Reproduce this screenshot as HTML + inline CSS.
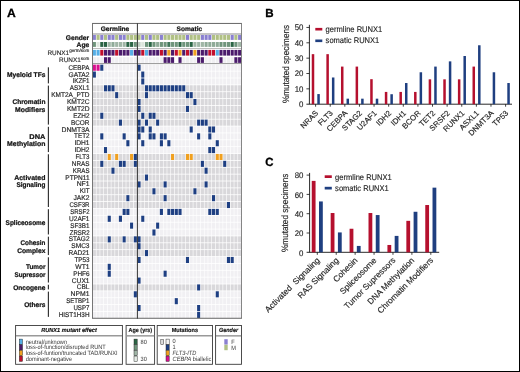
<!DOCTYPE html><html><head><meta charset="utf-8"><style>html,body{margin:0;padding:0;background:#fff;}svg{display:block;will-change:transform;}text{font-family:"Liberation Sans", sans-serif;text-rendering:geometricPrecision;}</style></head><body>
<svg width="520" height="372" viewBox="0 0 520 372">
<rect x="0" y="0" width="520" height="372" fill="#fff"/>
<rect x="92.8" y="35" width="3.1" height="4.9" fill="#8a80d0"/>
<rect x="92.8" y="42" width="3.1" height="4.9" fill="#6f957c"/>
<rect x="92.8" y="49.9" width="3.1" height="5.7" fill="#55aee6"/>
<rect x="92.8" y="57.2" width="3.1" height="5.7" fill="#f0eff2"/>
<rect x="96.52" y="35" width="3.1" height="4.9" fill="#b0c084"/>
<rect x="96.52" y="42" width="3.1" height="4.9" fill="#dde6dd"/>
<rect x="96.52" y="49.9" width="3.1" height="5.7" fill="#55aee6"/>
<rect x="96.52" y="57.2" width="3.1" height="5.7" fill="#f0eff2"/>
<rect x="100.25" y="35" width="3.1" height="4.9" fill="#8a80d0"/>
<rect x="100.25" y="42" width="3.1" height="4.9" fill="#2a6444"/>
<rect x="100.25" y="49.9" width="3.1" height="5.7" fill="#c2102c"/>
<rect x="100.25" y="57.2" width="3.1" height="5.7" fill="#f0eff2"/>
<rect x="103.97" y="35" width="3.1" height="4.9" fill="#b0c084"/>
<rect x="103.97" y="42" width="3.1" height="4.9" fill="#2a6444"/>
<rect x="103.97" y="49.9" width="3.1" height="5.7" fill="#4b1b6c"/>
<rect x="103.97" y="57.2" width="3.1" height="5.7" fill="#4b1b6c"/>
<rect x="107.7" y="35" width="3.1" height="4.9" fill="#8a80d0"/>
<rect x="107.7" y="42" width="3.1" height="4.9" fill="#a0b6a6"/>
<rect x="107.7" y="49.9" width="3.1" height="5.7" fill="#4b1b6c"/>
<rect x="107.7" y="57.2" width="3.1" height="5.7" fill="#4b1b6c"/>
<rect x="111.42" y="35" width="3.1" height="4.9" fill="#8a80d0"/>
<rect x="111.42" y="42" width="3.1" height="4.9" fill="#8fab98"/>
<rect x="111.42" y="49.9" width="3.1" height="5.7" fill="#4b1b6c"/>
<rect x="111.42" y="57.2" width="3.1" height="5.7" fill="#f0eff2"/>
<rect x="115.15" y="35" width="3.1" height="4.9" fill="#b0c084"/>
<rect x="115.15" y="42" width="3.1" height="4.9" fill="#a0b6a6"/>
<rect x="115.15" y="49.9" width="3.1" height="5.7" fill="#c2102c"/>
<rect x="115.15" y="57.2" width="3.1" height="5.7" fill="#f0eff2"/>
<rect x="118.88" y="35" width="3.1" height="4.9" fill="#8a80d0"/>
<rect x="118.88" y="42" width="3.1" height="4.9" fill="#a0b6a6"/>
<rect x="118.88" y="49.9" width="3.1" height="5.7" fill="#4b1b6c"/>
<rect x="118.88" y="57.2" width="3.1" height="5.7" fill="#f0eff2"/>
<rect x="122.6" y="35" width="3.1" height="4.9" fill="#8a80d0"/>
<rect x="122.6" y="42" width="3.1" height="4.9" fill="#a0b6a6"/>
<rect x="122.6" y="49.9" width="3.1" height="5.7" fill="#4b1b6c"/>
<rect x="122.6" y="57.2" width="3.1" height="5.7" fill="#f0eff2"/>
<rect x="126.33" y="35" width="3.1" height="4.9" fill="#b0c084"/>
<rect x="126.33" y="42" width="3.1" height="4.9" fill="#2a6444"/>
<rect x="126.33" y="49.9" width="3.1" height="5.7" fill="#4b1b6c"/>
<rect x="126.33" y="57.2" width="3.1" height="5.7" fill="#f0eff2"/>
<rect x="130.05" y="35" width="3.1" height="4.9" fill="#b0c084"/>
<rect x="130.05" y="42" width="3.1" height="4.9" fill="#2a6444"/>
<rect x="130.05" y="49.9" width="3.1" height="5.7" fill="#55aee6"/>
<rect x="130.05" y="57.2" width="3.1" height="5.7" fill="#f0eff2"/>
<rect x="133.78" y="35" width="3.1" height="4.9" fill="#b0c084"/>
<rect x="133.78" y="42" width="3.1" height="4.9" fill="#6f957c"/>
<rect x="133.78" y="49.9" width="3.1" height="5.7" fill="#4b1b6c"/>
<rect x="133.78" y="57.2" width="3.1" height="5.7" fill="#f0eff2"/>
<rect x="137.5" y="35" width="3.1" height="4.9" fill="#b0c084"/>
<rect x="137.5" y="42" width="3.1" height="4.9" fill="#c0cfc3"/>
<rect x="137.5" y="49.9" width="3.1" height="5.7" fill="#4b1b6c"/>
<rect x="137.5" y="57.2" width="3.1" height="5.7" fill="#f0eff2"/>
<rect x="141.23" y="35" width="3.1" height="4.9" fill="#8a80d0"/>
<rect x="141.23" y="42" width="3.1" height="4.9" fill="#dde6dd"/>
<rect x="141.23" y="49.9" width="3.1" height="5.7" fill="#c2102c"/>
<rect x="141.23" y="57.2" width="3.1" height="5.7" fill="#f0eff2"/>
<rect x="144.95" y="35" width="3.1" height="4.9" fill="#b0c084"/>
<rect x="144.95" y="42" width="3.1" height="4.9" fill="#6f957c"/>
<rect x="144.95" y="49.9" width="3.1" height="5.7" fill="#55aee6"/>
<rect x="144.95" y="57.2" width="3.1" height="5.7" fill="#f0eff2"/>
<rect x="148.68" y="35" width="3.1" height="4.9" fill="#8a80d0"/>
<rect x="148.68" y="42" width="3.1" height="4.9" fill="#2a6444"/>
<rect x="148.68" y="49.9" width="3.1" height="5.7" fill="#4b1b6c"/>
<rect x="148.68" y="57.2" width="3.1" height="5.7" fill="#f0eff2"/>
<rect x="152.4" y="35" width="3.1" height="4.9" fill="#b0c084"/>
<rect x="152.4" y="42" width="3.1" height="4.9" fill="#6f957c"/>
<rect x="152.4" y="49.9" width="3.1" height="5.7" fill="#4b1b6c"/>
<rect x="152.4" y="57.2" width="3.1" height="5.7" fill="#f0eff2"/>
<rect x="156.12" y="35" width="3.1" height="4.9" fill="#b0c084"/>
<rect x="156.12" y="42" width="3.1" height="4.9" fill="#8fab98"/>
<rect x="156.12" y="49.9" width="3.1" height="5.7" fill="#4b1b6c"/>
<rect x="156.12" y="57.2" width="3.1" height="5.7" fill="#f0eff2"/>
<rect x="159.85" y="35" width="3.1" height="4.9" fill="#8a80d0"/>
<rect x="159.85" y="42" width="3.1" height="4.9" fill="#6f957c"/>
<rect x="159.85" y="49.9" width="3.1" height="5.7" fill="#c2102c"/>
<rect x="159.85" y="57.2" width="3.1" height="5.7" fill="#f0eff2"/>
<rect x="163.58" y="35" width="3.1" height="4.9" fill="#b0c084"/>
<rect x="163.58" y="42" width="3.1" height="4.9" fill="#6f957c"/>
<rect x="163.58" y="49.9" width="3.1" height="5.7" fill="#4b1b6c"/>
<rect x="163.58" y="57.2" width="3.1" height="5.7" fill="#4b1b6c"/>
<rect x="167.3" y="35" width="3.1" height="4.9" fill="#b0c084"/>
<rect x="167.3" y="42" width="3.1" height="4.9" fill="#41775a"/>
<rect x="167.3" y="49.9" width="3.1" height="5.7" fill="#f0a020"/>
<rect x="167.3" y="57.2" width="3.1" height="5.7" fill="#4b1b6c"/>
<rect x="171.03" y="35" width="3.1" height="4.9" fill="#b0c084"/>
<rect x="171.03" y="42" width="3.1" height="4.9" fill="#6f957c"/>
<rect x="171.03" y="49.9" width="3.1" height="5.7" fill="#4b1b6c"/>
<rect x="171.03" y="57.2" width="3.1" height="5.7" fill="#4b1b6c"/>
<rect x="174.75" y="35" width="3.1" height="4.9" fill="#b0c084"/>
<rect x="174.75" y="42" width="3.1" height="4.9" fill="#6f957c"/>
<rect x="174.75" y="49.9" width="3.1" height="5.7" fill="#c2102c"/>
<rect x="174.75" y="57.2" width="3.1" height="5.7" fill="#ffffff"/>
<rect x="178.48" y="35" width="3.1" height="4.9" fill="#b0c084"/>
<rect x="178.48" y="42" width="3.1" height="4.9" fill="#2a6444"/>
<rect x="178.48" y="49.9" width="3.1" height="5.7" fill="#f0a020"/>
<rect x="178.48" y="57.2" width="3.1" height="5.7" fill="#4b1b6c"/>
<rect x="182.2" y="35" width="3.1" height="4.9" fill="#b0c084"/>
<rect x="182.2" y="42" width="3.1" height="4.9" fill="#6f957c"/>
<rect x="182.2" y="49.9" width="3.1" height="5.7" fill="#4b1b6c"/>
<rect x="182.2" y="57.2" width="3.1" height="5.7" fill="#f0eff2"/>
<rect x="185.93" y="35" width="3.1" height="4.9" fill="#8a80d0"/>
<rect x="185.93" y="42" width="3.1" height="4.9" fill="#6f957c"/>
<rect x="185.93" y="49.9" width="3.1" height="5.7" fill="#c2102c"/>
<rect x="185.93" y="57.2" width="3.1" height="5.7" fill="#f0eff2"/>
<rect x="189.65" y="35" width="3.1" height="4.9" fill="#b0c084"/>
<rect x="189.65" y="42" width="3.1" height="4.9" fill="#2a6444"/>
<rect x="189.65" y="49.9" width="3.1" height="5.7" fill="#4b1b6c"/>
<rect x="189.65" y="57.2" width="3.1" height="5.7" fill="#f0eff2"/>
<rect x="193.38" y="35" width="3.1" height="4.9" fill="#b0c084"/>
<rect x="193.38" y="42" width="3.1" height="4.9" fill="#a0b6a6"/>
<rect x="193.38" y="49.9" width="3.1" height="5.7" fill="#f0a020"/>
<rect x="193.38" y="57.2" width="3.1" height="5.7" fill="#f0eff2"/>
<rect x="197.1" y="35" width="3.1" height="4.9" fill="#b0c084"/>
<rect x="197.1" y="42" width="3.1" height="4.9" fill="#a0b6a6"/>
<rect x="197.1" y="49.9" width="3.1" height="5.7" fill="#4b1b6c"/>
<rect x="197.1" y="57.2" width="3.1" height="5.7" fill="#4b1b6c"/>
<rect x="200.83" y="35" width="3.1" height="4.9" fill="#8a80d0"/>
<rect x="200.83" y="42" width="3.1" height="4.9" fill="#a0b6a6"/>
<rect x="200.83" y="49.9" width="3.1" height="5.7" fill="#4b1b6c"/>
<rect x="200.83" y="57.2" width="3.1" height="5.7" fill="#4b1b6c"/>
<rect x="204.55" y="35" width="3.1" height="4.9" fill="#8a80d0"/>
<rect x="204.55" y="42" width="3.1" height="4.9" fill="#8fab98"/>
<rect x="204.55" y="49.9" width="3.1" height="5.7" fill="#4b1b6c"/>
<rect x="204.55" y="57.2" width="3.1" height="5.7" fill="#f0eff2"/>
<rect x="208.28" y="35" width="3.1" height="4.9" fill="#8a80d0"/>
<rect x="208.28" y="42" width="3.1" height="4.9" fill="#8fab98"/>
<rect x="208.28" y="49.9" width="3.1" height="5.7" fill="#c2102c"/>
<rect x="208.28" y="57.2" width="3.1" height="5.7" fill="#f0eff2"/>
<rect x="212" y="35" width="3.1" height="4.9" fill="#b0c084"/>
<rect x="212" y="42" width="3.1" height="4.9" fill="#8fab98"/>
<rect x="212" y="49.9" width="3.1" height="5.7" fill="#c2102c"/>
<rect x="212" y="57.2" width="3.1" height="5.7" fill="#f0eff2"/>
<rect x="215.73" y="35" width="3.1" height="4.9" fill="#b0c084"/>
<rect x="215.73" y="42" width="3.1" height="4.9" fill="#8fab98"/>
<rect x="215.73" y="49.9" width="3.1" height="5.7" fill="#55aee6"/>
<rect x="215.73" y="57.2" width="3.1" height="5.7" fill="#f0eff2"/>
<rect x="219.45" y="35" width="3.1" height="4.9" fill="#b0c084"/>
<rect x="219.45" y="42" width="3.1" height="4.9" fill="#6f957c"/>
<rect x="219.45" y="49.9" width="3.1" height="5.7" fill="#4b1b6c"/>
<rect x="219.45" y="57.2" width="3.1" height="5.7" fill="#4b1b6c"/>
<rect x="223.18" y="35" width="3.1" height="4.9" fill="#b0c084"/>
<rect x="223.18" y="42" width="3.1" height="4.9" fill="#6f957c"/>
<rect x="223.18" y="49.9" width="3.1" height="5.7" fill="#4b1b6c"/>
<rect x="223.18" y="57.2" width="3.1" height="5.7" fill="#f0eff2"/>
<rect x="226.9" y="35" width="3.1" height="4.9" fill="#b0c084"/>
<rect x="226.9" y="42" width="3.1" height="4.9" fill="#6f957c"/>
<rect x="226.9" y="49.9" width="3.1" height="5.7" fill="#4b1b6c"/>
<rect x="226.9" y="57.2" width="3.1" height="5.7" fill="#f0eff2"/>
<rect x="230.63" y="35" width="3.1" height="4.9" fill="#8a80d0"/>
<rect x="230.63" y="42" width="3.1" height="4.9" fill="#2a6444"/>
<rect x="230.63" y="49.9" width="3.1" height="5.7" fill="#4b1b6c"/>
<rect x="230.63" y="57.2" width="3.1" height="5.7" fill="#f0eff2"/>
<rect x="234.35" y="35" width="3.1" height="4.9" fill="#b0c084"/>
<rect x="234.35" y="42" width="3.1" height="4.9" fill="#6f957c"/>
<rect x="234.35" y="49.9" width="3.1" height="5.7" fill="#4b1b6c"/>
<rect x="234.35" y="57.2" width="3.1" height="5.7" fill="#4b1b6c"/>
<rect x="238.08" y="35" width="3.1" height="4.9" fill="#8a80d0"/>
<rect x="238.08" y="42" width="3.1" height="4.9" fill="#a0b6a6"/>
<rect x="238.08" y="49.9" width="3.1" height="5.7" fill="#4b1b6c"/>
<rect x="238.08" y="57.2" width="3.1" height="5.7" fill="#4b1b6c"/>
<rect x="92.8" y="64.65" width="3.1" height="6.1" fill="#d8108e"/>
<rect x="96.52" y="64.65" width="3.1" height="6.1" fill="#d8108e"/>
<rect x="100.25" y="64.65" width="3.1" height="6.1" fill="#1e3f82"/>
<rect x="103.97" y="64.65" width="3.1" height="6.1" fill="#f1f0f3"/>
<rect x="107.7" y="64.65" width="3.1" height="6.1" fill="#f1f0f3"/>
<rect x="111.42" y="64.65" width="3.1" height="6.1" fill="#f1f0f3"/>
<rect x="115.15" y="64.65" width="3.1" height="6.1" fill="#f1f0f3"/>
<rect x="118.88" y="64.65" width="3.1" height="6.1" fill="#f1f0f3"/>
<rect x="122.6" y="64.65" width="3.1" height="6.1" fill="#f1f0f3"/>
<rect x="126.33" y="64.65" width="3.1" height="6.1" fill="#f1f0f3"/>
<rect x="130.05" y="64.65" width="3.1" height="6.1" fill="#f1f0f3"/>
<rect x="133.78" y="64.65" width="3.1" height="6.1" fill="#f1f0f3"/>
<rect x="137.5" y="64.65" width="3.1" height="6.1" fill="#1e3f82"/>
<rect x="141.23" y="64.65" width="3.1" height="6.1" fill="#f1f0f3"/>
<rect x="144.95" y="64.65" width="3.1" height="6.1" fill="#f1f0f3"/>
<rect x="148.68" y="64.65" width="3.1" height="6.1" fill="#f1f0f3"/>
<rect x="152.4" y="64.65" width="3.1" height="6.1" fill="#f1f0f3"/>
<rect x="156.12" y="64.65" width="3.1" height="6.1" fill="#f1f0f3"/>
<rect x="159.85" y="64.65" width="3.1" height="6.1" fill="#f1f0f3"/>
<rect x="163.58" y="64.65" width="3.1" height="6.1" fill="#f1f0f3"/>
<rect x="167.3" y="64.65" width="3.1" height="6.1" fill="#f1f0f3"/>
<rect x="171.03" y="64.65" width="3.1" height="6.1" fill="#f1f0f3"/>
<rect x="174.75" y="64.65" width="3.1" height="6.1" fill="#f1f0f3"/>
<rect x="178.48" y="64.65" width="3.1" height="6.1" fill="#f1f0f3"/>
<rect x="182.2" y="64.65" width="3.1" height="6.1" fill="#f1f0f3"/>
<rect x="185.93" y="64.65" width="3.1" height="6.1" fill="#f1f0f3"/>
<rect x="189.65" y="64.65" width="3.1" height="6.1" fill="#f1f0f3"/>
<rect x="193.38" y="64.65" width="3.1" height="6.1" fill="#f1f0f3"/>
<rect x="197.1" y="64.65" width="3.1" height="6.1" fill="#f1f0f3"/>
<rect x="200.83" y="64.65" width="3.1" height="6.1" fill="#f1f0f3"/>
<rect x="204.55" y="64.65" width="3.1" height="6.1" fill="#f1f0f3"/>
<rect x="208.28" y="64.65" width="3.1" height="6.1" fill="#f1f0f3"/>
<rect x="212" y="64.65" width="3.1" height="6.1" fill="#f1f0f3"/>
<rect x="215.73" y="64.65" width="3.1" height="6.1" fill="#f1f0f3"/>
<rect x="219.45" y="64.65" width="3.1" height="6.1" fill="#f1f0f3"/>
<rect x="223.18" y="64.65" width="3.1" height="6.1" fill="#f1f0f3"/>
<rect x="226.9" y="64.65" width="3.1" height="6.1" fill="#f1f0f3"/>
<rect x="230.63" y="64.65" width="3.1" height="6.1" fill="#f1f0f3"/>
<rect x="234.35" y="64.65" width="3.1" height="6.1" fill="#f1f0f3"/>
<rect x="238.08" y="64.65" width="3.1" height="6.1" fill="#f1f0f3"/>
<rect x="92.8" y="71.52" width="3.1" height="6.1" fill="#1e3f82"/>
<rect x="96.52" y="71.52" width="3.1" height="6.1" fill="#f1f0f3"/>
<rect x="100.25" y="71.52" width="3.1" height="6.1" fill="#f1f0f3"/>
<rect x="103.97" y="71.52" width="3.1" height="6.1" fill="#f1f0f3"/>
<rect x="107.7" y="71.52" width="3.1" height="6.1" fill="#f1f0f3"/>
<rect x="111.42" y="71.52" width="3.1" height="6.1" fill="#f1f0f3"/>
<rect x="115.15" y="71.52" width="3.1" height="6.1" fill="#f1f0f3"/>
<rect x="118.88" y="71.52" width="3.1" height="6.1" fill="#f1f0f3"/>
<rect x="122.6" y="71.52" width="3.1" height="6.1" fill="#f1f0f3"/>
<rect x="126.33" y="71.52" width="3.1" height="6.1" fill="#f1f0f3"/>
<rect x="130.05" y="71.52" width="3.1" height="6.1" fill="#f1f0f3"/>
<rect x="133.78" y="71.52" width="3.1" height="6.1" fill="#f1f0f3"/>
<rect x="137.5" y="71.52" width="3.1" height="6.1" fill="#f1f0f3"/>
<rect x="141.23" y="71.52" width="3.1" height="6.1" fill="#1e3f82"/>
<rect x="144.95" y="71.52" width="3.1" height="6.1" fill="#f1f0f3"/>
<rect x="148.68" y="71.52" width="3.1" height="6.1" fill="#f1f0f3"/>
<rect x="152.4" y="71.52" width="3.1" height="6.1" fill="#f1f0f3"/>
<rect x="156.12" y="71.52" width="3.1" height="6.1" fill="#f1f0f3"/>
<rect x="159.85" y="71.52" width="3.1" height="6.1" fill="#f1f0f3"/>
<rect x="163.58" y="71.52" width="3.1" height="6.1" fill="#f1f0f3"/>
<rect x="167.3" y="71.52" width="3.1" height="6.1" fill="#f1f0f3"/>
<rect x="171.03" y="71.52" width="3.1" height="6.1" fill="#f1f0f3"/>
<rect x="174.75" y="71.52" width="3.1" height="6.1" fill="#f1f0f3"/>
<rect x="178.48" y="71.52" width="3.1" height="6.1" fill="#f1f0f3"/>
<rect x="182.2" y="71.52" width="3.1" height="6.1" fill="#f1f0f3"/>
<rect x="185.93" y="71.52" width="3.1" height="6.1" fill="#f1f0f3"/>
<rect x="189.65" y="71.52" width="3.1" height="6.1" fill="#f1f0f3"/>
<rect x="193.38" y="71.52" width="3.1" height="6.1" fill="#f1f0f3"/>
<rect x="197.1" y="71.52" width="3.1" height="6.1" fill="#f1f0f3"/>
<rect x="200.83" y="71.52" width="3.1" height="6.1" fill="#f1f0f3"/>
<rect x="204.55" y="71.52" width="3.1" height="6.1" fill="#f1f0f3"/>
<rect x="208.28" y="71.52" width="3.1" height="6.1" fill="#f1f0f3"/>
<rect x="212" y="71.52" width="3.1" height="6.1" fill="#f1f0f3"/>
<rect x="215.73" y="71.52" width="3.1" height="6.1" fill="#f1f0f3"/>
<rect x="219.45" y="71.52" width="3.1" height="6.1" fill="#f1f0f3"/>
<rect x="223.18" y="71.52" width="3.1" height="6.1" fill="#f1f0f3"/>
<rect x="226.9" y="71.52" width="3.1" height="6.1" fill="#f1f0f3"/>
<rect x="230.63" y="71.52" width="3.1" height="6.1" fill="#f1f0f3"/>
<rect x="234.35" y="71.52" width="3.1" height="6.1" fill="#f1f0f3"/>
<rect x="238.08" y="71.52" width="3.1" height="6.1" fill="#f1f0f3"/>
<rect x="92.8" y="78.38" width="3.1" height="6.1" fill="#f1f0f3"/>
<rect x="96.52" y="78.38" width="3.1" height="6.1" fill="#f1f0f3"/>
<rect x="100.25" y="78.38" width="3.1" height="6.1" fill="#f1f0f3"/>
<rect x="103.97" y="78.38" width="3.1" height="6.1" fill="#f1f0f3"/>
<rect x="107.7" y="78.38" width="3.1" height="6.1" fill="#f1f0f3"/>
<rect x="111.42" y="78.38" width="3.1" height="6.1" fill="#f1f0f3"/>
<rect x="115.15" y="78.38" width="3.1" height="6.1" fill="#f1f0f3"/>
<rect x="118.88" y="78.38" width="3.1" height="6.1" fill="#f1f0f3"/>
<rect x="122.6" y="78.38" width="3.1" height="6.1" fill="#f1f0f3"/>
<rect x="126.33" y="78.38" width="3.1" height="6.1" fill="#f1f0f3"/>
<rect x="130.05" y="78.38" width="3.1" height="6.1" fill="#f1f0f3"/>
<rect x="133.78" y="78.38" width="3.1" height="6.1" fill="#f1f0f3"/>
<rect x="137.5" y="78.38" width="3.1" height="6.1" fill="#f1f0f3"/>
<rect x="141.23" y="78.38" width="3.1" height="6.1" fill="#1e3f82"/>
<rect x="144.95" y="78.38" width="3.1" height="6.1" fill="#f1f0f3"/>
<rect x="148.68" y="78.38" width="3.1" height="6.1" fill="#f1f0f3"/>
<rect x="152.4" y="78.38" width="3.1" height="6.1" fill="#f1f0f3"/>
<rect x="156.12" y="78.38" width="3.1" height="6.1" fill="#f1f0f3"/>
<rect x="159.85" y="78.38" width="3.1" height="6.1" fill="#f1f0f3"/>
<rect x="163.58" y="78.38" width="3.1" height="6.1" fill="#f1f0f3"/>
<rect x="167.3" y="78.38" width="3.1" height="6.1" fill="#f1f0f3"/>
<rect x="171.03" y="78.38" width="3.1" height="6.1" fill="#f1f0f3"/>
<rect x="174.75" y="78.38" width="3.1" height="6.1" fill="#f1f0f3"/>
<rect x="178.48" y="78.38" width="3.1" height="6.1" fill="#f1f0f3"/>
<rect x="182.2" y="78.38" width="3.1" height="6.1" fill="#f1f0f3"/>
<rect x="185.93" y="78.38" width="3.1" height="6.1" fill="#f1f0f3"/>
<rect x="189.65" y="78.38" width="3.1" height="6.1" fill="#f1f0f3"/>
<rect x="193.38" y="78.38" width="3.1" height="6.1" fill="#f1f0f3"/>
<rect x="197.1" y="78.38" width="3.1" height="6.1" fill="#f1f0f3"/>
<rect x="200.83" y="78.38" width="3.1" height="6.1" fill="#f1f0f3"/>
<rect x="204.55" y="78.38" width="3.1" height="6.1" fill="#f1f0f3"/>
<rect x="208.28" y="78.38" width="3.1" height="6.1" fill="#f1f0f3"/>
<rect x="212" y="78.38" width="3.1" height="6.1" fill="#f1f0f3"/>
<rect x="215.73" y="78.38" width="3.1" height="6.1" fill="#f1f0f3"/>
<rect x="219.45" y="78.38" width="3.1" height="6.1" fill="#f1f0f3"/>
<rect x="223.18" y="78.38" width="3.1" height="6.1" fill="#f1f0f3"/>
<rect x="226.9" y="78.38" width="3.1" height="6.1" fill="#f1f0f3"/>
<rect x="230.63" y="78.38" width="3.1" height="6.1" fill="#f1f0f3"/>
<rect x="234.35" y="78.38" width="3.1" height="6.1" fill="#f1f0f3"/>
<rect x="238.08" y="78.38" width="3.1" height="6.1" fill="#f1f0f3"/>
<rect x="92.8" y="85.25" width="3.1" height="6.1" fill="#d9d8db"/>
<rect x="96.52" y="85.25" width="3.1" height="6.1" fill="#d9d8db"/>
<rect x="100.25" y="85.25" width="3.1" height="6.1" fill="#d9d8db"/>
<rect x="103.97" y="85.25" width="3.1" height="6.1" fill="#1e3f82"/>
<rect x="107.7" y="85.25" width="3.1" height="6.1" fill="#1e3f82"/>
<rect x="111.42" y="85.25" width="3.1" height="6.1" fill="#1e3f82"/>
<rect x="115.15" y="85.25" width="3.1" height="6.1" fill="#d9d8db"/>
<rect x="118.88" y="85.25" width="3.1" height="6.1" fill="#d9d8db"/>
<rect x="122.6" y="85.25" width="3.1" height="6.1" fill="#d9d8db"/>
<rect x="126.33" y="85.25" width="3.1" height="6.1" fill="#d9d8db"/>
<rect x="130.05" y="85.25" width="3.1" height="6.1" fill="#d9d8db"/>
<rect x="133.78" y="85.25" width="3.1" height="6.1" fill="#d9d8db"/>
<rect x="137.5" y="85.25" width="3.1" height="6.1" fill="#d9d8db"/>
<rect x="141.23" y="85.25" width="3.1" height="6.1" fill="#d9d8db"/>
<rect x="144.95" y="85.25" width="3.1" height="6.1" fill="#1e3f82"/>
<rect x="148.68" y="85.25" width="3.1" height="6.1" fill="#1e3f82"/>
<rect x="152.4" y="85.25" width="3.1" height="6.1" fill="#1e3f82"/>
<rect x="156.12" y="85.25" width="3.1" height="6.1" fill="#1e3f82"/>
<rect x="159.85" y="85.25" width="3.1" height="6.1" fill="#1e3f82"/>
<rect x="163.58" y="85.25" width="3.1" height="6.1" fill="#1e3f82"/>
<rect x="167.3" y="85.25" width="3.1" height="6.1" fill="#1e3f82"/>
<rect x="171.03" y="85.25" width="3.1" height="6.1" fill="#1e3f82"/>
<rect x="174.75" y="85.25" width="3.1" height="6.1" fill="#1e3f82"/>
<rect x="178.48" y="85.25" width="3.1" height="6.1" fill="#1e3f82"/>
<rect x="182.2" y="85.25" width="3.1" height="6.1" fill="#1e3f82"/>
<rect x="185.93" y="85.25" width="3.1" height="6.1" fill="#d9d8db"/>
<rect x="189.65" y="85.25" width="3.1" height="6.1" fill="#d9d8db"/>
<rect x="193.38" y="85.25" width="3.1" height="6.1" fill="#d9d8db"/>
<rect x="197.1" y="85.25" width="3.1" height="6.1" fill="#d9d8db"/>
<rect x="200.83" y="85.25" width="3.1" height="6.1" fill="#d9d8db"/>
<rect x="204.55" y="85.25" width="3.1" height="6.1" fill="#d9d8db"/>
<rect x="208.28" y="85.25" width="3.1" height="6.1" fill="#d9d8db"/>
<rect x="212" y="85.25" width="3.1" height="6.1" fill="#d9d8db"/>
<rect x="215.73" y="85.25" width="3.1" height="6.1" fill="#d9d8db"/>
<rect x="219.45" y="85.25" width="3.1" height="6.1" fill="#d9d8db"/>
<rect x="223.18" y="85.25" width="3.1" height="6.1" fill="#d9d8db"/>
<rect x="226.9" y="85.25" width="3.1" height="6.1" fill="#d9d8db"/>
<rect x="230.63" y="85.25" width="3.1" height="6.1" fill="#d9d8db"/>
<rect x="234.35" y="85.25" width="3.1" height="6.1" fill="#d9d8db"/>
<rect x="238.08" y="85.25" width="3.1" height="6.1" fill="#d9d8db"/>
<rect x="92.8" y="92.12" width="3.1" height="6.1" fill="#d9d8db"/>
<rect x="96.52" y="92.12" width="3.1" height="6.1" fill="#d9d8db"/>
<rect x="100.25" y="92.12" width="3.1" height="6.1" fill="#d9d8db"/>
<rect x="103.97" y="92.12" width="3.1" height="6.1" fill="#d9d8db"/>
<rect x="107.7" y="92.12" width="3.1" height="6.1" fill="#d9d8db"/>
<rect x="111.42" y="92.12" width="3.1" height="6.1" fill="#d9d8db"/>
<rect x="115.15" y="92.12" width="3.1" height="6.1" fill="#1e3f82"/>
<rect x="118.88" y="92.12" width="3.1" height="6.1" fill="#d9d8db"/>
<rect x="122.6" y="92.12" width="3.1" height="6.1" fill="#d9d8db"/>
<rect x="126.33" y="92.12" width="3.1" height="6.1" fill="#d9d8db"/>
<rect x="130.05" y="92.12" width="3.1" height="6.1" fill="#d9d8db"/>
<rect x="133.78" y="92.12" width="3.1" height="6.1" fill="#d9d8db"/>
<rect x="137.5" y="92.12" width="3.1" height="6.1" fill="#d9d8db"/>
<rect x="141.23" y="92.12" width="3.1" height="6.1" fill="#d9d8db"/>
<rect x="144.95" y="92.12" width="3.1" height="6.1" fill="#1e3f82"/>
<rect x="148.68" y="92.12" width="3.1" height="6.1" fill="#d9d8db"/>
<rect x="152.4" y="92.12" width="3.1" height="6.1" fill="#d9d8db"/>
<rect x="156.12" y="92.12" width="3.1" height="6.1" fill="#d9d8db"/>
<rect x="159.85" y="92.12" width="3.1" height="6.1" fill="#d9d8db"/>
<rect x="163.58" y="92.12" width="3.1" height="6.1" fill="#d9d8db"/>
<rect x="167.3" y="92.12" width="3.1" height="6.1" fill="#d9d8db"/>
<rect x="171.03" y="92.12" width="3.1" height="6.1" fill="#d9d8db"/>
<rect x="174.75" y="92.12" width="3.1" height="6.1" fill="#d9d8db"/>
<rect x="178.48" y="92.12" width="3.1" height="6.1" fill="#d9d8db"/>
<rect x="182.2" y="92.12" width="3.1" height="6.1" fill="#d9d8db"/>
<rect x="185.93" y="92.12" width="3.1" height="6.1" fill="#1e3f82"/>
<rect x="189.65" y="92.12" width="3.1" height="6.1" fill="#1e3f82"/>
<rect x="193.38" y="92.12" width="3.1" height="6.1" fill="#d9d8db"/>
<rect x="197.1" y="92.12" width="3.1" height="6.1" fill="#d9d8db"/>
<rect x="200.83" y="92.12" width="3.1" height="6.1" fill="#d9d8db"/>
<rect x="204.55" y="92.12" width="3.1" height="6.1" fill="#d9d8db"/>
<rect x="208.28" y="92.12" width="3.1" height="6.1" fill="#d9d8db"/>
<rect x="212" y="92.12" width="3.1" height="6.1" fill="#d9d8db"/>
<rect x="215.73" y="92.12" width="3.1" height="6.1" fill="#d9d8db"/>
<rect x="219.45" y="92.12" width="3.1" height="6.1" fill="#d9d8db"/>
<rect x="223.18" y="92.12" width="3.1" height="6.1" fill="#d9d8db"/>
<rect x="226.9" y="92.12" width="3.1" height="6.1" fill="#d9d8db"/>
<rect x="230.63" y="92.12" width="3.1" height="6.1" fill="#d9d8db"/>
<rect x="234.35" y="92.12" width="3.1" height="6.1" fill="#d9d8db"/>
<rect x="238.08" y="92.12" width="3.1" height="6.1" fill="#d9d8db"/>
<rect x="92.8" y="98.98" width="3.1" height="6.1" fill="#d9d8db"/>
<rect x="96.52" y="98.98" width="3.1" height="6.1" fill="#d9d8db"/>
<rect x="100.25" y="98.98" width="3.1" height="6.1" fill="#d9d8db"/>
<rect x="103.97" y="98.98" width="3.1" height="6.1" fill="#d9d8db"/>
<rect x="107.7" y="98.98" width="3.1" height="6.1" fill="#d9d8db"/>
<rect x="111.42" y="98.98" width="3.1" height="6.1" fill="#d9d8db"/>
<rect x="115.15" y="98.98" width="3.1" height="6.1" fill="#d9d8db"/>
<rect x="118.88" y="98.98" width="3.1" height="6.1" fill="#d9d8db"/>
<rect x="122.6" y="98.98" width="3.1" height="6.1" fill="#d9d8db"/>
<rect x="126.33" y="98.98" width="3.1" height="6.1" fill="#d9d8db"/>
<rect x="130.05" y="98.98" width="3.1" height="6.1" fill="#d9d8db"/>
<rect x="133.78" y="98.98" width="3.1" height="6.1" fill="#d9d8db"/>
<rect x="137.5" y="98.98" width="3.1" height="6.1" fill="#1e3f82"/>
<rect x="141.23" y="98.98" width="3.1" height="6.1" fill="#d9d8db"/>
<rect x="144.95" y="98.98" width="3.1" height="6.1" fill="#d9d8db"/>
<rect x="148.68" y="98.98" width="3.1" height="6.1" fill="#d9d8db"/>
<rect x="152.4" y="98.98" width="3.1" height="6.1" fill="#d9d8db"/>
<rect x="156.12" y="98.98" width="3.1" height="6.1" fill="#d9d8db"/>
<rect x="159.85" y="98.98" width="3.1" height="6.1" fill="#d9d8db"/>
<rect x="163.58" y="98.98" width="3.1" height="6.1" fill="#d9d8db"/>
<rect x="167.3" y="98.98" width="3.1" height="6.1" fill="#d9d8db"/>
<rect x="171.03" y="98.98" width="3.1" height="6.1" fill="#d9d8db"/>
<rect x="174.75" y="98.98" width="3.1" height="6.1" fill="#d9d8db"/>
<rect x="178.48" y="98.98" width="3.1" height="6.1" fill="#d9d8db"/>
<rect x="182.2" y="98.98" width="3.1" height="6.1" fill="#d9d8db"/>
<rect x="185.93" y="98.98" width="3.1" height="6.1" fill="#d9d8db"/>
<rect x="189.65" y="98.98" width="3.1" height="6.1" fill="#d9d8db"/>
<rect x="193.38" y="98.98" width="3.1" height="6.1" fill="#1e3f82"/>
<rect x="197.1" y="98.98" width="3.1" height="6.1" fill="#d9d8db"/>
<rect x="200.83" y="98.98" width="3.1" height="6.1" fill="#d9d8db"/>
<rect x="204.55" y="98.98" width="3.1" height="6.1" fill="#d9d8db"/>
<rect x="208.28" y="98.98" width="3.1" height="6.1" fill="#d9d8db"/>
<rect x="212" y="98.98" width="3.1" height="6.1" fill="#d9d8db"/>
<rect x="215.73" y="98.98" width="3.1" height="6.1" fill="#d9d8db"/>
<rect x="219.45" y="98.98" width="3.1" height="6.1" fill="#d9d8db"/>
<rect x="223.18" y="98.98" width="3.1" height="6.1" fill="#d9d8db"/>
<rect x="226.9" y="98.98" width="3.1" height="6.1" fill="#d9d8db"/>
<rect x="230.63" y="98.98" width="3.1" height="6.1" fill="#d9d8db"/>
<rect x="234.35" y="98.98" width="3.1" height="6.1" fill="#d9d8db"/>
<rect x="238.08" y="98.98" width="3.1" height="6.1" fill="#d9d8db"/>
<rect x="92.8" y="105.85" width="3.1" height="6.1" fill="#d9d8db"/>
<rect x="96.52" y="105.85" width="3.1" height="6.1" fill="#d9d8db"/>
<rect x="100.25" y="105.85" width="3.1" height="6.1" fill="#d9d8db"/>
<rect x="103.97" y="105.85" width="3.1" height="6.1" fill="#d9d8db"/>
<rect x="107.7" y="105.85" width="3.1" height="6.1" fill="#d9d8db"/>
<rect x="111.42" y="105.85" width="3.1" height="6.1" fill="#d9d8db"/>
<rect x="115.15" y="105.85" width="3.1" height="6.1" fill="#d9d8db"/>
<rect x="118.88" y="105.85" width="3.1" height="6.1" fill="#d9d8db"/>
<rect x="122.6" y="105.85" width="3.1" height="6.1" fill="#d9d8db"/>
<rect x="126.33" y="105.85" width="3.1" height="6.1" fill="#d9d8db"/>
<rect x="130.05" y="105.85" width="3.1" height="6.1" fill="#d9d8db"/>
<rect x="133.78" y="105.85" width="3.1" height="6.1" fill="#d9d8db"/>
<rect x="137.5" y="105.85" width="3.1" height="6.1" fill="#1e3f82"/>
<rect x="141.23" y="105.85" width="3.1" height="6.1" fill="#d9d8db"/>
<rect x="144.95" y="105.85" width="3.1" height="6.1" fill="#d9d8db"/>
<rect x="148.68" y="105.85" width="3.1" height="6.1" fill="#d9d8db"/>
<rect x="152.4" y="105.85" width="3.1" height="6.1" fill="#d9d8db"/>
<rect x="156.12" y="105.85" width="3.1" height="6.1" fill="#d9d8db"/>
<rect x="159.85" y="105.85" width="3.1" height="6.1" fill="#d9d8db"/>
<rect x="163.58" y="105.85" width="3.1" height="6.1" fill="#d9d8db"/>
<rect x="167.3" y="105.85" width="3.1" height="6.1" fill="#d9d8db"/>
<rect x="171.03" y="105.85" width="3.1" height="6.1" fill="#d9d8db"/>
<rect x="174.75" y="105.85" width="3.1" height="6.1" fill="#d9d8db"/>
<rect x="178.48" y="105.85" width="3.1" height="6.1" fill="#d9d8db"/>
<rect x="182.2" y="105.85" width="3.1" height="6.1" fill="#d9d8db"/>
<rect x="185.93" y="105.85" width="3.1" height="6.1" fill="#1e3f82"/>
<rect x="189.65" y="105.85" width="3.1" height="6.1" fill="#d9d8db"/>
<rect x="193.38" y="105.85" width="3.1" height="6.1" fill="#d9d8db"/>
<rect x="197.1" y="105.85" width="3.1" height="6.1" fill="#d9d8db"/>
<rect x="200.83" y="105.85" width="3.1" height="6.1" fill="#d9d8db"/>
<rect x="204.55" y="105.85" width="3.1" height="6.1" fill="#d9d8db"/>
<rect x="208.28" y="105.85" width="3.1" height="6.1" fill="#d9d8db"/>
<rect x="212" y="105.85" width="3.1" height="6.1" fill="#d9d8db"/>
<rect x="215.73" y="105.85" width="3.1" height="6.1" fill="#d9d8db"/>
<rect x="219.45" y="105.85" width="3.1" height="6.1" fill="#d9d8db"/>
<rect x="223.18" y="105.85" width="3.1" height="6.1" fill="#d9d8db"/>
<rect x="226.9" y="105.85" width="3.1" height="6.1" fill="#d9d8db"/>
<rect x="230.63" y="105.85" width="3.1" height="6.1" fill="#d9d8db"/>
<rect x="234.35" y="105.85" width="3.1" height="6.1" fill="#d9d8db"/>
<rect x="238.08" y="105.85" width="3.1" height="6.1" fill="#d9d8db"/>
<rect x="92.8" y="112.72" width="3.1" height="6.1" fill="#d9d8db"/>
<rect x="96.52" y="112.72" width="3.1" height="6.1" fill="#d9d8db"/>
<rect x="100.25" y="112.72" width="3.1" height="6.1" fill="#1e3f82"/>
<rect x="103.97" y="112.72" width="3.1" height="6.1" fill="#d9d8db"/>
<rect x="107.7" y="112.72" width="3.1" height="6.1" fill="#d9d8db"/>
<rect x="111.42" y="112.72" width="3.1" height="6.1" fill="#d9d8db"/>
<rect x="115.15" y="112.72" width="3.1" height="6.1" fill="#d9d8db"/>
<rect x="118.88" y="112.72" width="3.1" height="6.1" fill="#d9d8db"/>
<rect x="122.6" y="112.72" width="3.1" height="6.1" fill="#d9d8db"/>
<rect x="126.33" y="112.72" width="3.1" height="6.1" fill="#d9d8db"/>
<rect x="130.05" y="112.72" width="3.1" height="6.1" fill="#d9d8db"/>
<rect x="133.78" y="112.72" width="3.1" height="6.1" fill="#d9d8db"/>
<rect x="137.5" y="112.72" width="3.1" height="6.1" fill="#d9d8db"/>
<rect x="141.23" y="112.72" width="3.1" height="6.1" fill="#1e3f82"/>
<rect x="144.95" y="112.72" width="3.1" height="6.1" fill="#d9d8db"/>
<rect x="148.68" y="112.72" width="3.1" height="6.1" fill="#1e3f82"/>
<rect x="152.4" y="112.72" width="3.1" height="6.1" fill="#1e3f82"/>
<rect x="156.12" y="112.72" width="3.1" height="6.1" fill="#d9d8db"/>
<rect x="159.85" y="112.72" width="3.1" height="6.1" fill="#d9d8db"/>
<rect x="163.58" y="112.72" width="3.1" height="6.1" fill="#d9d8db"/>
<rect x="167.3" y="112.72" width="3.1" height="6.1" fill="#d9d8db"/>
<rect x="171.03" y="112.72" width="3.1" height="6.1" fill="#d9d8db"/>
<rect x="174.75" y="112.72" width="3.1" height="6.1" fill="#d9d8db"/>
<rect x="178.48" y="112.72" width="3.1" height="6.1" fill="#d9d8db"/>
<rect x="182.2" y="112.72" width="3.1" height="6.1" fill="#d9d8db"/>
<rect x="185.93" y="112.72" width="3.1" height="6.1" fill="#d9d8db"/>
<rect x="189.65" y="112.72" width="3.1" height="6.1" fill="#d9d8db"/>
<rect x="193.38" y="112.72" width="3.1" height="6.1" fill="#d9d8db"/>
<rect x="197.1" y="112.72" width="3.1" height="6.1" fill="#d9d8db"/>
<rect x="200.83" y="112.72" width="3.1" height="6.1" fill="#d9d8db"/>
<rect x="204.55" y="112.72" width="3.1" height="6.1" fill="#d9d8db"/>
<rect x="208.28" y="112.72" width="3.1" height="6.1" fill="#d9d8db"/>
<rect x="212" y="112.72" width="3.1" height="6.1" fill="#d9d8db"/>
<rect x="215.73" y="112.72" width="3.1" height="6.1" fill="#d9d8db"/>
<rect x="219.45" y="112.72" width="3.1" height="6.1" fill="#d9d8db"/>
<rect x="223.18" y="112.72" width="3.1" height="6.1" fill="#d9d8db"/>
<rect x="226.9" y="112.72" width="3.1" height="6.1" fill="#d9d8db"/>
<rect x="230.63" y="112.72" width="3.1" height="6.1" fill="#d9d8db"/>
<rect x="234.35" y="112.72" width="3.1" height="6.1" fill="#d9d8db"/>
<rect x="238.08" y="112.72" width="3.1" height="6.1" fill="#d9d8db"/>
<rect x="92.8" y="119.59" width="3.1" height="6.1" fill="#d9d8db"/>
<rect x="96.52" y="119.59" width="3.1" height="6.1" fill="#d9d8db"/>
<rect x="100.25" y="119.59" width="3.1" height="6.1" fill="#d9d8db"/>
<rect x="103.97" y="119.59" width="3.1" height="6.1" fill="#d9d8db"/>
<rect x="107.7" y="119.59" width="3.1" height="6.1" fill="#d9d8db"/>
<rect x="111.42" y="119.59" width="3.1" height="6.1" fill="#d9d8db"/>
<rect x="115.15" y="119.59" width="3.1" height="6.1" fill="#d9d8db"/>
<rect x="118.88" y="119.59" width="3.1" height="6.1" fill="#1e3f82"/>
<rect x="122.6" y="119.59" width="3.1" height="6.1" fill="#d9d8db"/>
<rect x="126.33" y="119.59" width="3.1" height="6.1" fill="#d9d8db"/>
<rect x="130.05" y="119.59" width="3.1" height="6.1" fill="#d9d8db"/>
<rect x="133.78" y="119.59" width="3.1" height="6.1" fill="#d9d8db"/>
<rect x="137.5" y="119.59" width="3.1" height="6.1" fill="#1e3f82"/>
<rect x="141.23" y="119.59" width="3.1" height="6.1" fill="#d9d8db"/>
<rect x="144.95" y="119.59" width="3.1" height="6.1" fill="#1e3f82"/>
<rect x="148.68" y="119.59" width="3.1" height="6.1" fill="#d9d8db"/>
<rect x="152.4" y="119.59" width="3.1" height="6.1" fill="#d9d8db"/>
<rect x="156.12" y="119.59" width="3.1" height="6.1" fill="#1e3f82"/>
<rect x="159.85" y="119.59" width="3.1" height="6.1" fill="#d9d8db"/>
<rect x="163.58" y="119.59" width="3.1" height="6.1" fill="#d9d8db"/>
<rect x="167.3" y="119.59" width="3.1" height="6.1" fill="#d9d8db"/>
<rect x="171.03" y="119.59" width="3.1" height="6.1" fill="#d9d8db"/>
<rect x="174.75" y="119.59" width="3.1" height="6.1" fill="#d9d8db"/>
<rect x="178.48" y="119.59" width="3.1" height="6.1" fill="#d9d8db"/>
<rect x="182.2" y="119.59" width="3.1" height="6.1" fill="#d9d8db"/>
<rect x="185.93" y="119.59" width="3.1" height="6.1" fill="#d9d8db"/>
<rect x="189.65" y="119.59" width="3.1" height="6.1" fill="#d9d8db"/>
<rect x="193.38" y="119.59" width="3.1" height="6.1" fill="#d9d8db"/>
<rect x="197.1" y="119.59" width="3.1" height="6.1" fill="#1e3f82"/>
<rect x="200.83" y="119.59" width="3.1" height="6.1" fill="#1e3f82"/>
<rect x="204.55" y="119.59" width="3.1" height="6.1" fill="#1e3f82"/>
<rect x="208.28" y="119.59" width="3.1" height="6.1" fill="#d9d8db"/>
<rect x="212" y="119.59" width="3.1" height="6.1" fill="#d9d8db"/>
<rect x="215.73" y="119.59" width="3.1" height="6.1" fill="#d9d8db"/>
<rect x="219.45" y="119.59" width="3.1" height="6.1" fill="#d9d8db"/>
<rect x="223.18" y="119.59" width="3.1" height="6.1" fill="#d9d8db"/>
<rect x="226.9" y="119.59" width="3.1" height="6.1" fill="#d9d8db"/>
<rect x="230.63" y="119.59" width="3.1" height="6.1" fill="#d9d8db"/>
<rect x="234.35" y="119.59" width="3.1" height="6.1" fill="#d9d8db"/>
<rect x="238.08" y="119.59" width="3.1" height="6.1" fill="#d9d8db"/>
<rect x="92.8" y="126.45" width="3.1" height="6.1" fill="#f1f0f3"/>
<rect x="96.52" y="126.45" width="3.1" height="6.1" fill="#f1f0f3"/>
<rect x="100.25" y="126.45" width="3.1" height="6.1" fill="#f1f0f3"/>
<rect x="103.97" y="126.45" width="3.1" height="6.1" fill="#f1f0f3"/>
<rect x="107.7" y="126.45" width="3.1" height="6.1" fill="#f1f0f3"/>
<rect x="111.42" y="126.45" width="3.1" height="6.1" fill="#f1f0f3"/>
<rect x="115.15" y="126.45" width="3.1" height="6.1" fill="#f1f0f3"/>
<rect x="118.88" y="126.45" width="3.1" height="6.1" fill="#f1f0f3"/>
<rect x="122.6" y="126.45" width="3.1" height="6.1" fill="#f1f0f3"/>
<rect x="126.33" y="126.45" width="3.1" height="6.1" fill="#f1f0f3"/>
<rect x="130.05" y="126.45" width="3.1" height="6.1" fill="#f1f0f3"/>
<rect x="133.78" y="126.45" width="3.1" height="6.1" fill="#f1f0f3"/>
<rect x="137.5" y="126.45" width="3.1" height="6.1" fill="#1e3f82"/>
<rect x="141.23" y="126.45" width="3.1" height="6.1" fill="#1e3f82"/>
<rect x="144.95" y="126.45" width="3.1" height="6.1" fill="#f1f0f3"/>
<rect x="148.68" y="126.45" width="3.1" height="6.1" fill="#1e3f82"/>
<rect x="152.4" y="126.45" width="3.1" height="6.1" fill="#f1f0f3"/>
<rect x="156.12" y="126.45" width="3.1" height="6.1" fill="#f1f0f3"/>
<rect x="159.85" y="126.45" width="3.1" height="6.1" fill="#f1f0f3"/>
<rect x="163.58" y="126.45" width="3.1" height="6.1" fill="#f1f0f3"/>
<rect x="167.3" y="126.45" width="3.1" height="6.1" fill="#f1f0f3"/>
<rect x="171.03" y="126.45" width="3.1" height="6.1" fill="#f1f0f3"/>
<rect x="174.75" y="126.45" width="3.1" height="6.1" fill="#f1f0f3"/>
<rect x="178.48" y="126.45" width="3.1" height="6.1" fill="#f1f0f3"/>
<rect x="182.2" y="126.45" width="3.1" height="6.1" fill="#f1f0f3"/>
<rect x="185.93" y="126.45" width="3.1" height="6.1" fill="#f1f0f3"/>
<rect x="189.65" y="126.45" width="3.1" height="6.1" fill="#1e3f82"/>
<rect x="193.38" y="126.45" width="3.1" height="6.1" fill="#f1f0f3"/>
<rect x="197.1" y="126.45" width="3.1" height="6.1" fill="#f1f0f3"/>
<rect x="200.83" y="126.45" width="3.1" height="6.1" fill="#f1f0f3"/>
<rect x="204.55" y="126.45" width="3.1" height="6.1" fill="#f1f0f3"/>
<rect x="208.28" y="126.45" width="3.1" height="6.1" fill="#1e3f82"/>
<rect x="212" y="126.45" width="3.1" height="6.1" fill="#1e3f82"/>
<rect x="215.73" y="126.45" width="3.1" height="6.1" fill="#f1f0f3"/>
<rect x="219.45" y="126.45" width="3.1" height="6.1" fill="#f1f0f3"/>
<rect x="223.18" y="126.45" width="3.1" height="6.1" fill="#f1f0f3"/>
<rect x="226.9" y="126.45" width="3.1" height="6.1" fill="#f1f0f3"/>
<rect x="230.63" y="126.45" width="3.1" height="6.1" fill="#f1f0f3"/>
<rect x="234.35" y="126.45" width="3.1" height="6.1" fill="#f1f0f3"/>
<rect x="238.08" y="126.45" width="3.1" height="6.1" fill="#f1f0f3"/>
<rect x="92.8" y="133.32" width="3.1" height="6.1" fill="#f1f0f3"/>
<rect x="96.52" y="133.32" width="3.1" height="6.1" fill="#f1f0f3"/>
<rect x="100.25" y="133.32" width="3.1" height="6.1" fill="#1e3f82"/>
<rect x="103.97" y="133.32" width="3.1" height="6.1" fill="#f1f0f3"/>
<rect x="107.7" y="133.32" width="3.1" height="6.1" fill="#f1f0f3"/>
<rect x="111.42" y="133.32" width="3.1" height="6.1" fill="#f1f0f3"/>
<rect x="115.15" y="133.32" width="3.1" height="6.1" fill="#f1f0f3"/>
<rect x="118.88" y="133.32" width="3.1" height="6.1" fill="#f1f0f3"/>
<rect x="122.6" y="133.32" width="3.1" height="6.1" fill="#1e3f82"/>
<rect x="126.33" y="133.32" width="3.1" height="6.1" fill="#f1f0f3"/>
<rect x="130.05" y="133.32" width="3.1" height="6.1" fill="#f1f0f3"/>
<rect x="133.78" y="133.32" width="3.1" height="6.1" fill="#f1f0f3"/>
<rect x="137.5" y="133.32" width="3.1" height="6.1" fill="#1e3f82"/>
<rect x="141.23" y="133.32" width="3.1" height="6.1" fill="#f1f0f3"/>
<rect x="144.95" y="133.32" width="3.1" height="6.1" fill="#f1f0f3"/>
<rect x="148.68" y="133.32" width="3.1" height="6.1" fill="#1e3f82"/>
<rect x="152.4" y="133.32" width="3.1" height="6.1" fill="#1e3f82"/>
<rect x="156.12" y="133.32" width="3.1" height="6.1" fill="#f1f0f3"/>
<rect x="159.85" y="133.32" width="3.1" height="6.1" fill="#1e3f82"/>
<rect x="163.58" y="133.32" width="3.1" height="6.1" fill="#1e3f82"/>
<rect x="167.3" y="133.32" width="3.1" height="6.1" fill="#f1f0f3"/>
<rect x="171.03" y="133.32" width="3.1" height="6.1" fill="#f1f0f3"/>
<rect x="174.75" y="133.32" width="3.1" height="6.1" fill="#f1f0f3"/>
<rect x="178.48" y="133.32" width="3.1" height="6.1" fill="#f1f0f3"/>
<rect x="182.2" y="133.32" width="3.1" height="6.1" fill="#f1f0f3"/>
<rect x="185.93" y="133.32" width="3.1" height="6.1" fill="#f1f0f3"/>
<rect x="189.65" y="133.32" width="3.1" height="6.1" fill="#f1f0f3"/>
<rect x="193.38" y="133.32" width="3.1" height="6.1" fill="#f1f0f3"/>
<rect x="197.1" y="133.32" width="3.1" height="6.1" fill="#1e3f82"/>
<rect x="200.83" y="133.32" width="3.1" height="6.1" fill="#f1f0f3"/>
<rect x="204.55" y="133.32" width="3.1" height="6.1" fill="#f1f0f3"/>
<rect x="208.28" y="133.32" width="3.1" height="6.1" fill="#1e3f82"/>
<rect x="212" y="133.32" width="3.1" height="6.1" fill="#f1f0f3"/>
<rect x="215.73" y="133.32" width="3.1" height="6.1" fill="#f1f0f3"/>
<rect x="219.45" y="133.32" width="3.1" height="6.1" fill="#f1f0f3"/>
<rect x="223.18" y="133.32" width="3.1" height="6.1" fill="#f1f0f3"/>
<rect x="226.9" y="133.32" width="3.1" height="6.1" fill="#f1f0f3"/>
<rect x="230.63" y="133.32" width="3.1" height="6.1" fill="#f1f0f3"/>
<rect x="234.35" y="133.32" width="3.1" height="6.1" fill="#f1f0f3"/>
<rect x="238.08" y="133.32" width="3.1" height="6.1" fill="#f1f0f3"/>
<rect x="92.8" y="140.19" width="3.1" height="6.1" fill="#f1f0f3"/>
<rect x="96.52" y="140.19" width="3.1" height="6.1" fill="#f1f0f3"/>
<rect x="100.25" y="140.19" width="3.1" height="6.1" fill="#f1f0f3"/>
<rect x="103.97" y="140.19" width="3.1" height="6.1" fill="#f1f0f3"/>
<rect x="107.7" y="140.19" width="3.1" height="6.1" fill="#f1f0f3"/>
<rect x="111.42" y="140.19" width="3.1" height="6.1" fill="#f1f0f3"/>
<rect x="115.15" y="140.19" width="3.1" height="6.1" fill="#f1f0f3"/>
<rect x="118.88" y="140.19" width="3.1" height="6.1" fill="#f1f0f3"/>
<rect x="122.6" y="140.19" width="3.1" height="6.1" fill="#f1f0f3"/>
<rect x="126.33" y="140.19" width="3.1" height="6.1" fill="#1e3f82"/>
<rect x="130.05" y="140.19" width="3.1" height="6.1" fill="#f1f0f3"/>
<rect x="133.78" y="140.19" width="3.1" height="6.1" fill="#f1f0f3"/>
<rect x="137.5" y="140.19" width="3.1" height="6.1" fill="#f1f0f3"/>
<rect x="141.23" y="140.19" width="3.1" height="6.1" fill="#1e3f82"/>
<rect x="144.95" y="140.19" width="3.1" height="6.1" fill="#f1f0f3"/>
<rect x="148.68" y="140.19" width="3.1" height="6.1" fill="#f1f0f3"/>
<rect x="152.4" y="140.19" width="3.1" height="6.1" fill="#f1f0f3"/>
<rect x="156.12" y="140.19" width="3.1" height="6.1" fill="#f1f0f3"/>
<rect x="159.85" y="140.19" width="3.1" height="6.1" fill="#1e3f82"/>
<rect x="163.58" y="140.19" width="3.1" height="6.1" fill="#f1f0f3"/>
<rect x="167.3" y="140.19" width="3.1" height="6.1" fill="#1e3f82"/>
<rect x="171.03" y="140.19" width="3.1" height="6.1" fill="#f1f0f3"/>
<rect x="174.75" y="140.19" width="3.1" height="6.1" fill="#f1f0f3"/>
<rect x="178.48" y="140.19" width="3.1" height="6.1" fill="#f1f0f3"/>
<rect x="182.2" y="140.19" width="3.1" height="6.1" fill="#f1f0f3"/>
<rect x="185.93" y="140.19" width="3.1" height="6.1" fill="#f1f0f3"/>
<rect x="189.65" y="140.19" width="3.1" height="6.1" fill="#f1f0f3"/>
<rect x="193.38" y="140.19" width="3.1" height="6.1" fill="#f1f0f3"/>
<rect x="197.1" y="140.19" width="3.1" height="6.1" fill="#f1f0f3"/>
<rect x="200.83" y="140.19" width="3.1" height="6.1" fill="#f1f0f3"/>
<rect x="204.55" y="140.19" width="3.1" height="6.1" fill="#f1f0f3"/>
<rect x="208.28" y="140.19" width="3.1" height="6.1" fill="#f1f0f3"/>
<rect x="212" y="140.19" width="3.1" height="6.1" fill="#f1f0f3"/>
<rect x="215.73" y="140.19" width="3.1" height="6.1" fill="#1e3f82"/>
<rect x="219.45" y="140.19" width="3.1" height="6.1" fill="#f1f0f3"/>
<rect x="223.18" y="140.19" width="3.1" height="6.1" fill="#f1f0f3"/>
<rect x="226.9" y="140.19" width="3.1" height="6.1" fill="#f1f0f3"/>
<rect x="230.63" y="140.19" width="3.1" height="6.1" fill="#f1f0f3"/>
<rect x="234.35" y="140.19" width="3.1" height="6.1" fill="#f1f0f3"/>
<rect x="238.08" y="140.19" width="3.1" height="6.1" fill="#f1f0f3"/>
<rect x="92.8" y="147.05" width="3.1" height="6.1" fill="#f1f0f3"/>
<rect x="96.52" y="147.05" width="3.1" height="6.1" fill="#f1f0f3"/>
<rect x="100.25" y="147.05" width="3.1" height="6.1" fill="#f1f0f3"/>
<rect x="103.97" y="147.05" width="3.1" height="6.1" fill="#1e3f82"/>
<rect x="107.7" y="147.05" width="3.1" height="6.1" fill="#f1f0f3"/>
<rect x="111.42" y="147.05" width="3.1" height="6.1" fill="#f1f0f3"/>
<rect x="115.15" y="147.05" width="3.1" height="6.1" fill="#f1f0f3"/>
<rect x="118.88" y="147.05" width="3.1" height="6.1" fill="#f1f0f3"/>
<rect x="122.6" y="147.05" width="3.1" height="6.1" fill="#f1f0f3"/>
<rect x="126.33" y="147.05" width="3.1" height="6.1" fill="#f1f0f3"/>
<rect x="130.05" y="147.05" width="3.1" height="6.1" fill="#f1f0f3"/>
<rect x="133.78" y="147.05" width="3.1" height="6.1" fill="#f1f0f3"/>
<rect x="137.5" y="147.05" width="3.1" height="6.1" fill="#f1f0f3"/>
<rect x="141.23" y="147.05" width="3.1" height="6.1" fill="#f1f0f3"/>
<rect x="144.95" y="147.05" width="3.1" height="6.1" fill="#f1f0f3"/>
<rect x="148.68" y="147.05" width="3.1" height="6.1" fill="#f1f0f3"/>
<rect x="152.4" y="147.05" width="3.1" height="6.1" fill="#f1f0f3"/>
<rect x="156.12" y="147.05" width="3.1" height="6.1" fill="#f1f0f3"/>
<rect x="159.85" y="147.05" width="3.1" height="6.1" fill="#f1f0f3"/>
<rect x="163.58" y="147.05" width="3.1" height="6.1" fill="#f1f0f3"/>
<rect x="167.3" y="147.05" width="3.1" height="6.1" fill="#f1f0f3"/>
<rect x="171.03" y="147.05" width="3.1" height="6.1" fill="#f1f0f3"/>
<rect x="174.75" y="147.05" width="3.1" height="6.1" fill="#f1f0f3"/>
<rect x="178.48" y="147.05" width="3.1" height="6.1" fill="#f1f0f3"/>
<rect x="182.2" y="147.05" width="3.1" height="6.1" fill="#f1f0f3"/>
<rect x="185.93" y="147.05" width="3.1" height="6.1" fill="#f1f0f3"/>
<rect x="189.65" y="147.05" width="3.1" height="6.1" fill="#f1f0f3"/>
<rect x="193.38" y="147.05" width="3.1" height="6.1" fill="#f1f0f3"/>
<rect x="197.1" y="147.05" width="3.1" height="6.1" fill="#f1f0f3"/>
<rect x="200.83" y="147.05" width="3.1" height="6.1" fill="#f1f0f3"/>
<rect x="204.55" y="147.05" width="3.1" height="6.1" fill="#f1f0f3"/>
<rect x="208.28" y="147.05" width="3.1" height="6.1" fill="#1e3f82"/>
<rect x="212" y="147.05" width="3.1" height="6.1" fill="#1e3f82"/>
<rect x="215.73" y="147.05" width="3.1" height="6.1" fill="#f1f0f3"/>
<rect x="219.45" y="147.05" width="3.1" height="6.1" fill="#f1f0f3"/>
<rect x="223.18" y="147.05" width="3.1" height="6.1" fill="#f1f0f3"/>
<rect x="226.9" y="147.05" width="3.1" height="6.1" fill="#f1f0f3"/>
<rect x="230.63" y="147.05" width="3.1" height="6.1" fill="#f1f0f3"/>
<rect x="234.35" y="147.05" width="3.1" height="6.1" fill="#f1f0f3"/>
<rect x="238.08" y="147.05" width="3.1" height="6.1" fill="#f1f0f3"/>
<rect x="92.8" y="153.92" width="3.1" height="6.1" fill="#d9d8db"/>
<rect x="96.52" y="153.92" width="3.1" height="6.1" fill="#d9d8db"/>
<rect x="100.25" y="153.92" width="3.1" height="6.1" fill="#d9d8db"/>
<rect x="103.97" y="153.92" width="3.1" height="6.1" fill="#d9d8db"/>
<rect x="107.7" y="153.92" width="3.1" height="6.1" fill="#f0a020"/>
<rect x="111.42" y="153.92" width="3.1" height="6.1" fill="#d9d8db"/>
<rect x="115.15" y="153.92" width="3.1" height="6.1" fill="#f0a020"/>
<rect x="118.88" y="153.92" width="3.1" height="6.1" fill="#d9d8db"/>
<rect x="122.6" y="153.92" width="3.1" height="6.1" fill="#d9d8db"/>
<rect x="126.33" y="153.92" width="3.1" height="6.1" fill="#d9d8db"/>
<rect x="130.05" y="153.92" width="3.1" height="6.1" fill="#f0a020"/>
<rect x="133.78" y="153.92" width="3.1" height="6.1" fill="#1e3f82"/>
<rect x="137.5" y="153.92" width="3.1" height="6.1" fill="#d9d8db"/>
<rect x="141.23" y="153.92" width="3.1" height="6.1" fill="#d9d8db"/>
<rect x="144.95" y="153.92" width="3.1" height="6.1" fill="#d9d8db"/>
<rect x="148.68" y="153.92" width="3.1" height="6.1" fill="#d9d8db"/>
<rect x="152.4" y="153.92" width="3.1" height="6.1" fill="#d9d8db"/>
<rect x="156.12" y="153.92" width="3.1" height="6.1" fill="#d9d8db"/>
<rect x="159.85" y="153.92" width="3.1" height="6.1" fill="#d9d8db"/>
<rect x="163.58" y="153.92" width="3.1" height="6.1" fill="#d9d8db"/>
<rect x="167.3" y="153.92" width="3.1" height="6.1" fill="#d9d8db"/>
<rect x="171.03" y="153.92" width="3.1" height="6.1" fill="#f0a020"/>
<rect x="174.75" y="153.92" width="3.1" height="6.1" fill="#d9d8db"/>
<rect x="178.48" y="153.92" width="3.1" height="6.1" fill="#d9d8db"/>
<rect x="182.2" y="153.92" width="3.1" height="6.1" fill="#d9d8db"/>
<rect x="185.93" y="153.92" width="3.1" height="6.1" fill="#f0a020"/>
<rect x="189.65" y="153.92" width="3.1" height="6.1" fill="#f0a020"/>
<rect x="193.38" y="153.92" width="3.1" height="6.1" fill="#d9d8db"/>
<rect x="197.1" y="153.92" width="3.1" height="6.1" fill="#d9d8db"/>
<rect x="200.83" y="153.92" width="3.1" height="6.1" fill="#d9d8db"/>
<rect x="204.55" y="153.92" width="3.1" height="6.1" fill="#d9d8db"/>
<rect x="208.28" y="153.92" width="3.1" height="6.1" fill="#d9d8db"/>
<rect x="212" y="153.92" width="3.1" height="6.1" fill="#d9d8db"/>
<rect x="215.73" y="153.92" width="3.1" height="6.1" fill="#f0a020"/>
<rect x="219.45" y="153.92" width="3.1" height="6.1" fill="#f0a020"/>
<rect x="223.18" y="153.92" width="3.1" height="6.1" fill="#d9d8db"/>
<rect x="226.9" y="153.92" width="3.1" height="6.1" fill="#d9d8db"/>
<rect x="230.63" y="153.92" width="3.1" height="6.1" fill="#d9d8db"/>
<rect x="234.35" y="153.92" width="3.1" height="6.1" fill="#d9d8db"/>
<rect x="238.08" y="153.92" width="3.1" height="6.1" fill="#d9d8db"/>
<rect x="92.8" y="160.79" width="3.1" height="6.1" fill="#d9d8db"/>
<rect x="96.52" y="160.79" width="3.1" height="6.1" fill="#d9d8db"/>
<rect x="100.25" y="160.79" width="3.1" height="6.1" fill="#1e3f82"/>
<rect x="103.97" y="160.79" width="3.1" height="6.1" fill="#d9d8db"/>
<rect x="107.7" y="160.79" width="3.1" height="6.1" fill="#d9d8db"/>
<rect x="111.42" y="160.79" width="3.1" height="6.1" fill="#d9d8db"/>
<rect x="115.15" y="160.79" width="3.1" height="6.1" fill="#d9d8db"/>
<rect x="118.88" y="160.79" width="3.1" height="6.1" fill="#1e3f82"/>
<rect x="122.6" y="160.79" width="3.1" height="6.1" fill="#1e3f82"/>
<rect x="126.33" y="160.79" width="3.1" height="6.1" fill="#d9d8db"/>
<rect x="130.05" y="160.79" width="3.1" height="6.1" fill="#d9d8db"/>
<rect x="133.78" y="160.79" width="3.1" height="6.1" fill="#1e3f82"/>
<rect x="137.5" y="160.79" width="3.1" height="6.1" fill="#d9d8db"/>
<rect x="141.23" y="160.79" width="3.1" height="6.1" fill="#d9d8db"/>
<rect x="144.95" y="160.79" width="3.1" height="6.1" fill="#d9d8db"/>
<rect x="148.68" y="160.79" width="3.1" height="6.1" fill="#d9d8db"/>
<rect x="152.4" y="160.79" width="3.1" height="6.1" fill="#d9d8db"/>
<rect x="156.12" y="160.79" width="3.1" height="6.1" fill="#d9d8db"/>
<rect x="159.85" y="160.79" width="3.1" height="6.1" fill="#d9d8db"/>
<rect x="163.58" y="160.79" width="3.1" height="6.1" fill="#d9d8db"/>
<rect x="167.3" y="160.79" width="3.1" height="6.1" fill="#d9d8db"/>
<rect x="171.03" y="160.79" width="3.1" height="6.1" fill="#d9d8db"/>
<rect x="174.75" y="160.79" width="3.1" height="6.1" fill="#d9d8db"/>
<rect x="178.48" y="160.79" width="3.1" height="6.1" fill="#d9d8db"/>
<rect x="182.2" y="160.79" width="3.1" height="6.1" fill="#d9d8db"/>
<rect x="185.93" y="160.79" width="3.1" height="6.1" fill="#d9d8db"/>
<rect x="189.65" y="160.79" width="3.1" height="6.1" fill="#d9d8db"/>
<rect x="193.38" y="160.79" width="3.1" height="6.1" fill="#d9d8db"/>
<rect x="197.1" y="160.79" width="3.1" height="6.1" fill="#d9d8db"/>
<rect x="200.83" y="160.79" width="3.1" height="6.1" fill="#1e3f82"/>
<rect x="204.55" y="160.79" width="3.1" height="6.1" fill="#d9d8db"/>
<rect x="208.28" y="160.79" width="3.1" height="6.1" fill="#d9d8db"/>
<rect x="212" y="160.79" width="3.1" height="6.1" fill="#d9d8db"/>
<rect x="215.73" y="160.79" width="3.1" height="6.1" fill="#d9d8db"/>
<rect x="219.45" y="160.79" width="3.1" height="6.1" fill="#d9d8db"/>
<rect x="223.18" y="160.79" width="3.1" height="6.1" fill="#1e3f82"/>
<rect x="226.9" y="160.79" width="3.1" height="6.1" fill="#d9d8db"/>
<rect x="230.63" y="160.79" width="3.1" height="6.1" fill="#d9d8db"/>
<rect x="234.35" y="160.79" width="3.1" height="6.1" fill="#d9d8db"/>
<rect x="238.08" y="160.79" width="3.1" height="6.1" fill="#d9d8db"/>
<rect x="92.8" y="167.65" width="3.1" height="6.1" fill="#d9d8db"/>
<rect x="96.52" y="167.65" width="3.1" height="6.1" fill="#d9d8db"/>
<rect x="100.25" y="167.65" width="3.1" height="6.1" fill="#d9d8db"/>
<rect x="103.97" y="167.65" width="3.1" height="6.1" fill="#d9d8db"/>
<rect x="107.7" y="167.65" width="3.1" height="6.1" fill="#d9d8db"/>
<rect x="111.42" y="167.65" width="3.1" height="6.1" fill="#1e3f82"/>
<rect x="115.15" y="167.65" width="3.1" height="6.1" fill="#d9d8db"/>
<rect x="118.88" y="167.65" width="3.1" height="6.1" fill="#d9d8db"/>
<rect x="122.6" y="167.65" width="3.1" height="6.1" fill="#d9d8db"/>
<rect x="126.33" y="167.65" width="3.1" height="6.1" fill="#d9d8db"/>
<rect x="130.05" y="167.65" width="3.1" height="6.1" fill="#d9d8db"/>
<rect x="133.78" y="167.65" width="3.1" height="6.1" fill="#d9d8db"/>
<rect x="137.5" y="167.65" width="3.1" height="6.1" fill="#d9d8db"/>
<rect x="141.23" y="167.65" width="3.1" height="6.1" fill="#d9d8db"/>
<rect x="144.95" y="167.65" width="3.1" height="6.1" fill="#d9d8db"/>
<rect x="148.68" y="167.65" width="3.1" height="6.1" fill="#d9d8db"/>
<rect x="152.4" y="167.65" width="3.1" height="6.1" fill="#d9d8db"/>
<rect x="156.12" y="167.65" width="3.1" height="6.1" fill="#d9d8db"/>
<rect x="159.85" y="167.65" width="3.1" height="6.1" fill="#d9d8db"/>
<rect x="163.58" y="167.65" width="3.1" height="6.1" fill="#d9d8db"/>
<rect x="167.3" y="167.65" width="3.1" height="6.1" fill="#d9d8db"/>
<rect x="171.03" y="167.65" width="3.1" height="6.1" fill="#d9d8db"/>
<rect x="174.75" y="167.65" width="3.1" height="6.1" fill="#d9d8db"/>
<rect x="178.48" y="167.65" width="3.1" height="6.1" fill="#d9d8db"/>
<rect x="182.2" y="167.65" width="3.1" height="6.1" fill="#d9d8db"/>
<rect x="185.93" y="167.65" width="3.1" height="6.1" fill="#d9d8db"/>
<rect x="189.65" y="167.65" width="3.1" height="6.1" fill="#d9d8db"/>
<rect x="193.38" y="167.65" width="3.1" height="6.1" fill="#d9d8db"/>
<rect x="197.1" y="167.65" width="3.1" height="6.1" fill="#d9d8db"/>
<rect x="200.83" y="167.65" width="3.1" height="6.1" fill="#d9d8db"/>
<rect x="204.55" y="167.65" width="3.1" height="6.1" fill="#1e3f82"/>
<rect x="208.28" y="167.65" width="3.1" height="6.1" fill="#d9d8db"/>
<rect x="212" y="167.65" width="3.1" height="6.1" fill="#d9d8db"/>
<rect x="215.73" y="167.65" width="3.1" height="6.1" fill="#d9d8db"/>
<rect x="219.45" y="167.65" width="3.1" height="6.1" fill="#d9d8db"/>
<rect x="223.18" y="167.65" width="3.1" height="6.1" fill="#d9d8db"/>
<rect x="226.9" y="167.65" width="3.1" height="6.1" fill="#d9d8db"/>
<rect x="230.63" y="167.65" width="3.1" height="6.1" fill="#d9d8db"/>
<rect x="234.35" y="167.65" width="3.1" height="6.1" fill="#d9d8db"/>
<rect x="238.08" y="167.65" width="3.1" height="6.1" fill="#d9d8db"/>
<rect x="92.8" y="174.52" width="3.1" height="6.1" fill="#d9d8db"/>
<rect x="96.52" y="174.52" width="3.1" height="6.1" fill="#d9d8db"/>
<rect x="100.25" y="174.52" width="3.1" height="6.1" fill="#d9d8db"/>
<rect x="103.97" y="174.52" width="3.1" height="6.1" fill="#d9d8db"/>
<rect x="107.7" y="174.52" width="3.1" height="6.1" fill="#d9d8db"/>
<rect x="111.42" y="174.52" width="3.1" height="6.1" fill="#d9d8db"/>
<rect x="115.15" y="174.52" width="3.1" height="6.1" fill="#d9d8db"/>
<rect x="118.88" y="174.52" width="3.1" height="6.1" fill="#d9d8db"/>
<rect x="122.6" y="174.52" width="3.1" height="6.1" fill="#d9d8db"/>
<rect x="126.33" y="174.52" width="3.1" height="6.1" fill="#d9d8db"/>
<rect x="130.05" y="174.52" width="3.1" height="6.1" fill="#d9d8db"/>
<rect x="133.78" y="174.52" width="3.1" height="6.1" fill="#d9d8db"/>
<rect x="137.5" y="174.52" width="3.1" height="6.1" fill="#d9d8db"/>
<rect x="141.23" y="174.52" width="3.1" height="6.1" fill="#d9d8db"/>
<rect x="144.95" y="174.52" width="3.1" height="6.1" fill="#1e3f82"/>
<rect x="148.68" y="174.52" width="3.1" height="6.1" fill="#d9d8db"/>
<rect x="152.4" y="174.52" width="3.1" height="6.1" fill="#d9d8db"/>
<rect x="156.12" y="174.52" width="3.1" height="6.1" fill="#d9d8db"/>
<rect x="159.85" y="174.52" width="3.1" height="6.1" fill="#d9d8db"/>
<rect x="163.58" y="174.52" width="3.1" height="6.1" fill="#d9d8db"/>
<rect x="167.3" y="174.52" width="3.1" height="6.1" fill="#d9d8db"/>
<rect x="171.03" y="174.52" width="3.1" height="6.1" fill="#d9d8db"/>
<rect x="174.75" y="174.52" width="3.1" height="6.1" fill="#d9d8db"/>
<rect x="178.48" y="174.52" width="3.1" height="6.1" fill="#d9d8db"/>
<rect x="182.2" y="174.52" width="3.1" height="6.1" fill="#d9d8db"/>
<rect x="185.93" y="174.52" width="3.1" height="6.1" fill="#d9d8db"/>
<rect x="189.65" y="174.52" width="3.1" height="6.1" fill="#d9d8db"/>
<rect x="193.38" y="174.52" width="3.1" height="6.1" fill="#d9d8db"/>
<rect x="197.1" y="174.52" width="3.1" height="6.1" fill="#d9d8db"/>
<rect x="200.83" y="174.52" width="3.1" height="6.1" fill="#d9d8db"/>
<rect x="204.55" y="174.52" width="3.1" height="6.1" fill="#d9d8db"/>
<rect x="208.28" y="174.52" width="3.1" height="6.1" fill="#d9d8db"/>
<rect x="212" y="174.52" width="3.1" height="6.1" fill="#d9d8db"/>
<rect x="215.73" y="174.52" width="3.1" height="6.1" fill="#d9d8db"/>
<rect x="219.45" y="174.52" width="3.1" height="6.1" fill="#d9d8db"/>
<rect x="223.18" y="174.52" width="3.1" height="6.1" fill="#d9d8db"/>
<rect x="226.9" y="174.52" width="3.1" height="6.1" fill="#d9d8db"/>
<rect x="230.63" y="174.52" width="3.1" height="6.1" fill="#d9d8db"/>
<rect x="234.35" y="174.52" width="3.1" height="6.1" fill="#d9d8db"/>
<rect x="238.08" y="174.52" width="3.1" height="6.1" fill="#d9d8db"/>
<rect x="92.8" y="181.39" width="3.1" height="6.1" fill="#d9d8db"/>
<rect x="96.52" y="181.39" width="3.1" height="6.1" fill="#d9d8db"/>
<rect x="100.25" y="181.39" width="3.1" height="6.1" fill="#d9d8db"/>
<rect x="103.97" y="181.39" width="3.1" height="6.1" fill="#d9d8db"/>
<rect x="107.7" y="181.39" width="3.1" height="6.1" fill="#d9d8db"/>
<rect x="111.42" y="181.39" width="3.1" height="6.1" fill="#d9d8db"/>
<rect x="115.15" y="181.39" width="3.1" height="6.1" fill="#d9d8db"/>
<rect x="118.88" y="181.39" width="3.1" height="6.1" fill="#d9d8db"/>
<rect x="122.6" y="181.39" width="3.1" height="6.1" fill="#d9d8db"/>
<rect x="126.33" y="181.39" width="3.1" height="6.1" fill="#d9d8db"/>
<rect x="130.05" y="181.39" width="3.1" height="6.1" fill="#d9d8db"/>
<rect x="133.78" y="181.39" width="3.1" height="6.1" fill="#d9d8db"/>
<rect x="137.5" y="181.39" width="3.1" height="6.1" fill="#1e3f82"/>
<rect x="141.23" y="181.39" width="3.1" height="6.1" fill="#d9d8db"/>
<rect x="144.95" y="181.39" width="3.1" height="6.1" fill="#d9d8db"/>
<rect x="148.68" y="181.39" width="3.1" height="6.1" fill="#d9d8db"/>
<rect x="152.4" y="181.39" width="3.1" height="6.1" fill="#d9d8db"/>
<rect x="156.12" y="181.39" width="3.1" height="6.1" fill="#d9d8db"/>
<rect x="159.85" y="181.39" width="3.1" height="6.1" fill="#d9d8db"/>
<rect x="163.58" y="181.39" width="3.1" height="6.1" fill="#1e3f82"/>
<rect x="167.3" y="181.39" width="3.1" height="6.1" fill="#d9d8db"/>
<rect x="171.03" y="181.39" width="3.1" height="6.1" fill="#d9d8db"/>
<rect x="174.75" y="181.39" width="3.1" height="6.1" fill="#d9d8db"/>
<rect x="178.48" y="181.39" width="3.1" height="6.1" fill="#d9d8db"/>
<rect x="182.2" y="181.39" width="3.1" height="6.1" fill="#d9d8db"/>
<rect x="185.93" y="181.39" width="3.1" height="6.1" fill="#d9d8db"/>
<rect x="189.65" y="181.39" width="3.1" height="6.1" fill="#d9d8db"/>
<rect x="193.38" y="181.39" width="3.1" height="6.1" fill="#d9d8db"/>
<rect x="197.1" y="181.39" width="3.1" height="6.1" fill="#d9d8db"/>
<rect x="200.83" y="181.39" width="3.1" height="6.1" fill="#d9d8db"/>
<rect x="204.55" y="181.39" width="3.1" height="6.1" fill="#1e3f82"/>
<rect x="208.28" y="181.39" width="3.1" height="6.1" fill="#d9d8db"/>
<rect x="212" y="181.39" width="3.1" height="6.1" fill="#d9d8db"/>
<rect x="215.73" y="181.39" width="3.1" height="6.1" fill="#d9d8db"/>
<rect x="219.45" y="181.39" width="3.1" height="6.1" fill="#d9d8db"/>
<rect x="223.18" y="181.39" width="3.1" height="6.1" fill="#d9d8db"/>
<rect x="226.9" y="181.39" width="3.1" height="6.1" fill="#d9d8db"/>
<rect x="230.63" y="181.39" width="3.1" height="6.1" fill="#d9d8db"/>
<rect x="234.35" y="181.39" width="3.1" height="6.1" fill="#d9d8db"/>
<rect x="238.08" y="181.39" width="3.1" height="6.1" fill="#d9d8db"/>
<rect x="92.8" y="188.26" width="3.1" height="6.1" fill="#d9d8db"/>
<rect x="96.52" y="188.26" width="3.1" height="6.1" fill="#d9d8db"/>
<rect x="100.25" y="188.26" width="3.1" height="6.1" fill="#d9d8db"/>
<rect x="103.97" y="188.26" width="3.1" height="6.1" fill="#d9d8db"/>
<rect x="107.7" y="188.26" width="3.1" height="6.1" fill="#d9d8db"/>
<rect x="111.42" y="188.26" width="3.1" height="6.1" fill="#d9d8db"/>
<rect x="115.15" y="188.26" width="3.1" height="6.1" fill="#d9d8db"/>
<rect x="118.88" y="188.26" width="3.1" height="6.1" fill="#d9d8db"/>
<rect x="122.6" y="188.26" width="3.1" height="6.1" fill="#d9d8db"/>
<rect x="126.33" y="188.26" width="3.1" height="6.1" fill="#d9d8db"/>
<rect x="130.05" y="188.26" width="3.1" height="6.1" fill="#d9d8db"/>
<rect x="133.78" y="188.26" width="3.1" height="6.1" fill="#d9d8db"/>
<rect x="137.5" y="188.26" width="3.1" height="6.1" fill="#d9d8db"/>
<rect x="141.23" y="188.26" width="3.1" height="6.1" fill="#d9d8db"/>
<rect x="144.95" y="188.26" width="3.1" height="6.1" fill="#d9d8db"/>
<rect x="148.68" y="188.26" width="3.1" height="6.1" fill="#d9d8db"/>
<rect x="152.4" y="188.26" width="3.1" height="6.1" fill="#1e3f82"/>
<rect x="156.12" y="188.26" width="3.1" height="6.1" fill="#d9d8db"/>
<rect x="159.85" y="188.26" width="3.1" height="6.1" fill="#d9d8db"/>
<rect x="163.58" y="188.26" width="3.1" height="6.1" fill="#d9d8db"/>
<rect x="167.3" y="188.26" width="3.1" height="6.1" fill="#d9d8db"/>
<rect x="171.03" y="188.26" width="3.1" height="6.1" fill="#d9d8db"/>
<rect x="174.75" y="188.26" width="3.1" height="6.1" fill="#d9d8db"/>
<rect x="178.48" y="188.26" width="3.1" height="6.1" fill="#d9d8db"/>
<rect x="182.2" y="188.26" width="3.1" height="6.1" fill="#d9d8db"/>
<rect x="185.93" y="188.26" width="3.1" height="6.1" fill="#d9d8db"/>
<rect x="189.65" y="188.26" width="3.1" height="6.1" fill="#d9d8db"/>
<rect x="193.38" y="188.26" width="3.1" height="6.1" fill="#1e3f82"/>
<rect x="197.1" y="188.26" width="3.1" height="6.1" fill="#d9d8db"/>
<rect x="200.83" y="188.26" width="3.1" height="6.1" fill="#d9d8db"/>
<rect x="204.55" y="188.26" width="3.1" height="6.1" fill="#d9d8db"/>
<rect x="208.28" y="188.26" width="3.1" height="6.1" fill="#d9d8db"/>
<rect x="212" y="188.26" width="3.1" height="6.1" fill="#d9d8db"/>
<rect x="215.73" y="188.26" width="3.1" height="6.1" fill="#d9d8db"/>
<rect x="219.45" y="188.26" width="3.1" height="6.1" fill="#d9d8db"/>
<rect x="223.18" y="188.26" width="3.1" height="6.1" fill="#d9d8db"/>
<rect x="226.9" y="188.26" width="3.1" height="6.1" fill="#d9d8db"/>
<rect x="230.63" y="188.26" width="3.1" height="6.1" fill="#d9d8db"/>
<rect x="234.35" y="188.26" width="3.1" height="6.1" fill="#d9d8db"/>
<rect x="238.08" y="188.26" width="3.1" height="6.1" fill="#d9d8db"/>
<rect x="92.8" y="195.12" width="3.1" height="6.1" fill="#d9d8db"/>
<rect x="96.52" y="195.12" width="3.1" height="6.1" fill="#d9d8db"/>
<rect x="100.25" y="195.12" width="3.1" height="6.1" fill="#d9d8db"/>
<rect x="103.97" y="195.12" width="3.1" height="6.1" fill="#d9d8db"/>
<rect x="107.7" y="195.12" width="3.1" height="6.1" fill="#d9d8db"/>
<rect x="111.42" y="195.12" width="3.1" height="6.1" fill="#d9d8db"/>
<rect x="115.15" y="195.12" width="3.1" height="6.1" fill="#d9d8db"/>
<rect x="118.88" y="195.12" width="3.1" height="6.1" fill="#d9d8db"/>
<rect x="122.6" y="195.12" width="3.1" height="6.1" fill="#d9d8db"/>
<rect x="126.33" y="195.12" width="3.1" height="6.1" fill="#1e3f82"/>
<rect x="130.05" y="195.12" width="3.1" height="6.1" fill="#d9d8db"/>
<rect x="133.78" y="195.12" width="3.1" height="6.1" fill="#d9d8db"/>
<rect x="137.5" y="195.12" width="3.1" height="6.1" fill="#d9d8db"/>
<rect x="141.23" y="195.12" width="3.1" height="6.1" fill="#d9d8db"/>
<rect x="144.95" y="195.12" width="3.1" height="6.1" fill="#d9d8db"/>
<rect x="148.68" y="195.12" width="3.1" height="6.1" fill="#d9d8db"/>
<rect x="152.4" y="195.12" width="3.1" height="6.1" fill="#d9d8db"/>
<rect x="156.12" y="195.12" width="3.1" height="6.1" fill="#d9d8db"/>
<rect x="159.85" y="195.12" width="3.1" height="6.1" fill="#d9d8db"/>
<rect x="163.58" y="195.12" width="3.1" height="6.1" fill="#1e3f82"/>
<rect x="167.3" y="195.12" width="3.1" height="6.1" fill="#d9d8db"/>
<rect x="171.03" y="195.12" width="3.1" height="6.1" fill="#d9d8db"/>
<rect x="174.75" y="195.12" width="3.1" height="6.1" fill="#d9d8db"/>
<rect x="178.48" y="195.12" width="3.1" height="6.1" fill="#d9d8db"/>
<rect x="182.2" y="195.12" width="3.1" height="6.1" fill="#d9d8db"/>
<rect x="185.93" y="195.12" width="3.1" height="6.1" fill="#d9d8db"/>
<rect x="189.65" y="195.12" width="3.1" height="6.1" fill="#d9d8db"/>
<rect x="193.38" y="195.12" width="3.1" height="6.1" fill="#d9d8db"/>
<rect x="197.1" y="195.12" width="3.1" height="6.1" fill="#d9d8db"/>
<rect x="200.83" y="195.12" width="3.1" height="6.1" fill="#d9d8db"/>
<rect x="204.55" y="195.12" width="3.1" height="6.1" fill="#d9d8db"/>
<rect x="208.28" y="195.12" width="3.1" height="6.1" fill="#d9d8db"/>
<rect x="212" y="195.12" width="3.1" height="6.1" fill="#1e3f82"/>
<rect x="215.73" y="195.12" width="3.1" height="6.1" fill="#d9d8db"/>
<rect x="219.45" y="195.12" width="3.1" height="6.1" fill="#d9d8db"/>
<rect x="223.18" y="195.12" width="3.1" height="6.1" fill="#d9d8db"/>
<rect x="226.9" y="195.12" width="3.1" height="6.1" fill="#d9d8db"/>
<rect x="230.63" y="195.12" width="3.1" height="6.1" fill="#d9d8db"/>
<rect x="234.35" y="195.12" width="3.1" height="6.1" fill="#d9d8db"/>
<rect x="238.08" y="195.12" width="3.1" height="6.1" fill="#d9d8db"/>
<rect x="92.8" y="201.99" width="3.1" height="6.1" fill="#d9d8db"/>
<rect x="96.52" y="201.99" width="3.1" height="6.1" fill="#d9d8db"/>
<rect x="100.25" y="201.99" width="3.1" height="6.1" fill="#d9d8db"/>
<rect x="103.97" y="201.99" width="3.1" height="6.1" fill="#d9d8db"/>
<rect x="107.7" y="201.99" width="3.1" height="6.1" fill="#d9d8db"/>
<rect x="111.42" y="201.99" width="3.1" height="6.1" fill="#d9d8db"/>
<rect x="115.15" y="201.99" width="3.1" height="6.1" fill="#d9d8db"/>
<rect x="118.88" y="201.99" width="3.1" height="6.1" fill="#d9d8db"/>
<rect x="122.6" y="201.99" width="3.1" height="6.1" fill="#d9d8db"/>
<rect x="126.33" y="201.99" width="3.1" height="6.1" fill="#d9d8db"/>
<rect x="130.05" y="201.99" width="3.1" height="6.1" fill="#d9d8db"/>
<rect x="133.78" y="201.99" width="3.1" height="6.1" fill="#d9d8db"/>
<rect x="137.5" y="201.99" width="3.1" height="6.1" fill="#d9d8db"/>
<rect x="141.23" y="201.99" width="3.1" height="6.1" fill="#d9d8db"/>
<rect x="144.95" y="201.99" width="3.1" height="6.1" fill="#d9d8db"/>
<rect x="148.68" y="201.99" width="3.1" height="6.1" fill="#d9d8db"/>
<rect x="152.4" y="201.99" width="3.1" height="6.1" fill="#d9d8db"/>
<rect x="156.12" y="201.99" width="3.1" height="6.1" fill="#d9d8db"/>
<rect x="159.85" y="201.99" width="3.1" height="6.1" fill="#d9d8db"/>
<rect x="163.58" y="201.99" width="3.1" height="6.1" fill="#d9d8db"/>
<rect x="167.3" y="201.99" width="3.1" height="6.1" fill="#d9d8db"/>
<rect x="171.03" y="201.99" width="3.1" height="6.1" fill="#d9d8db"/>
<rect x="174.75" y="201.99" width="3.1" height="6.1" fill="#d9d8db"/>
<rect x="178.48" y="201.99" width="3.1" height="6.1" fill="#d9d8db"/>
<rect x="182.2" y="201.99" width="3.1" height="6.1" fill="#d9d8db"/>
<rect x="185.93" y="201.99" width="3.1" height="6.1" fill="#d9d8db"/>
<rect x="189.65" y="201.99" width="3.1" height="6.1" fill="#d9d8db"/>
<rect x="193.38" y="201.99" width="3.1" height="6.1" fill="#d9d8db"/>
<rect x="197.1" y="201.99" width="3.1" height="6.1" fill="#d9d8db"/>
<rect x="200.83" y="201.99" width="3.1" height="6.1" fill="#d9d8db"/>
<rect x="204.55" y="201.99" width="3.1" height="6.1" fill="#d9d8db"/>
<rect x="208.28" y="201.99" width="3.1" height="6.1" fill="#d9d8db"/>
<rect x="212" y="201.99" width="3.1" height="6.1" fill="#d9d8db"/>
<rect x="215.73" y="201.99" width="3.1" height="6.1" fill="#d9d8db"/>
<rect x="219.45" y="201.99" width="3.1" height="6.1" fill="#d9d8db"/>
<rect x="223.18" y="201.99" width="3.1" height="6.1" fill="#d9d8db"/>
<rect x="226.9" y="201.99" width="3.1" height="6.1" fill="#1e3f82"/>
<rect x="230.63" y="201.99" width="3.1" height="6.1" fill="#d9d8db"/>
<rect x="234.35" y="201.99" width="3.1" height="6.1" fill="#d9d8db"/>
<rect x="238.08" y="201.99" width="3.1" height="6.1" fill="#d9d8db"/>
<rect x="92.8" y="208.86" width="3.1" height="6.1" fill="#f1f0f3"/>
<rect x="96.52" y="208.86" width="3.1" height="6.1" fill="#f1f0f3"/>
<rect x="100.25" y="208.86" width="3.1" height="6.1" fill="#f1f0f3"/>
<rect x="103.97" y="208.86" width="3.1" height="6.1" fill="#f1f0f3"/>
<rect x="107.7" y="208.86" width="3.1" height="6.1" fill="#f1f0f3"/>
<rect x="111.42" y="208.86" width="3.1" height="6.1" fill="#f1f0f3"/>
<rect x="115.15" y="208.86" width="3.1" height="6.1" fill="#f1f0f3"/>
<rect x="118.88" y="208.86" width="3.1" height="6.1" fill="#f1f0f3"/>
<rect x="122.6" y="208.86" width="3.1" height="6.1" fill="#1e3f82"/>
<rect x="126.33" y="208.86" width="3.1" height="6.1" fill="#1e3f82"/>
<rect x="130.05" y="208.86" width="3.1" height="6.1" fill="#f1f0f3"/>
<rect x="133.78" y="208.86" width="3.1" height="6.1" fill="#f1f0f3"/>
<rect x="137.5" y="208.86" width="3.1" height="6.1" fill="#f1f0f3"/>
<rect x="141.23" y="208.86" width="3.1" height="6.1" fill="#f1f0f3"/>
<rect x="144.95" y="208.86" width="3.1" height="6.1" fill="#f1f0f3"/>
<rect x="148.68" y="208.86" width="3.1" height="6.1" fill="#f1f0f3"/>
<rect x="152.4" y="208.86" width="3.1" height="6.1" fill="#f1f0f3"/>
<rect x="156.12" y="208.86" width="3.1" height="6.1" fill="#f1f0f3"/>
<rect x="159.85" y="208.86" width="3.1" height="6.1" fill="#1e3f82"/>
<rect x="163.58" y="208.86" width="3.1" height="6.1" fill="#f1f0f3"/>
<rect x="167.3" y="208.86" width="3.1" height="6.1" fill="#1e3f82"/>
<rect x="171.03" y="208.86" width="3.1" height="6.1" fill="#1e3f82"/>
<rect x="174.75" y="208.86" width="3.1" height="6.1" fill="#1e3f82"/>
<rect x="178.48" y="208.86" width="3.1" height="6.1" fill="#1e3f82"/>
<rect x="182.2" y="208.86" width="3.1" height="6.1" fill="#f1f0f3"/>
<rect x="185.93" y="208.86" width="3.1" height="6.1" fill="#f1f0f3"/>
<rect x="189.65" y="208.86" width="3.1" height="6.1" fill="#f1f0f3"/>
<rect x="193.38" y="208.86" width="3.1" height="6.1" fill="#f1f0f3"/>
<rect x="197.1" y="208.86" width="3.1" height="6.1" fill="#f1f0f3"/>
<rect x="200.83" y="208.86" width="3.1" height="6.1" fill="#f1f0f3"/>
<rect x="204.55" y="208.86" width="3.1" height="6.1" fill="#f1f0f3"/>
<rect x="208.28" y="208.86" width="3.1" height="6.1" fill="#1e3f82"/>
<rect x="212" y="208.86" width="3.1" height="6.1" fill="#1e3f82"/>
<rect x="215.73" y="208.86" width="3.1" height="6.1" fill="#1e3f82"/>
<rect x="219.45" y="208.86" width="3.1" height="6.1" fill="#f1f0f3"/>
<rect x="223.18" y="208.86" width="3.1" height="6.1" fill="#f1f0f3"/>
<rect x="226.9" y="208.86" width="3.1" height="6.1" fill="#f1f0f3"/>
<rect x="230.63" y="208.86" width="3.1" height="6.1" fill="#f1f0f3"/>
<rect x="234.35" y="208.86" width="3.1" height="6.1" fill="#f1f0f3"/>
<rect x="238.08" y="208.86" width="3.1" height="6.1" fill="#f1f0f3"/>
<rect x="92.8" y="215.72" width="3.1" height="6.1" fill="#f1f0f3"/>
<rect x="96.52" y="215.72" width="3.1" height="6.1" fill="#f1f0f3"/>
<rect x="100.25" y="215.72" width="3.1" height="6.1" fill="#f1f0f3"/>
<rect x="103.97" y="215.72" width="3.1" height="6.1" fill="#f1f0f3"/>
<rect x="107.7" y="215.72" width="3.1" height="6.1" fill="#1e3f82"/>
<rect x="111.42" y="215.72" width="3.1" height="6.1" fill="#f1f0f3"/>
<rect x="115.15" y="215.72" width="3.1" height="6.1" fill="#f1f0f3"/>
<rect x="118.88" y="215.72" width="3.1" height="6.1" fill="#1e3f82"/>
<rect x="122.6" y="215.72" width="3.1" height="6.1" fill="#f1f0f3"/>
<rect x="126.33" y="215.72" width="3.1" height="6.1" fill="#f1f0f3"/>
<rect x="130.05" y="215.72" width="3.1" height="6.1" fill="#f1f0f3"/>
<rect x="133.78" y="215.72" width="3.1" height="6.1" fill="#f1f0f3"/>
<rect x="137.5" y="215.72" width="3.1" height="6.1" fill="#f1f0f3"/>
<rect x="141.23" y="215.72" width="3.1" height="6.1" fill="#1e3f82"/>
<rect x="144.95" y="215.72" width="3.1" height="6.1" fill="#f1f0f3"/>
<rect x="148.68" y="215.72" width="3.1" height="6.1" fill="#f1f0f3"/>
<rect x="152.4" y="215.72" width="3.1" height="6.1" fill="#f1f0f3"/>
<rect x="156.12" y="215.72" width="3.1" height="6.1" fill="#f1f0f3"/>
<rect x="159.85" y="215.72" width="3.1" height="6.1" fill="#f1f0f3"/>
<rect x="163.58" y="215.72" width="3.1" height="6.1" fill="#f1f0f3"/>
<rect x="167.3" y="215.72" width="3.1" height="6.1" fill="#f1f0f3"/>
<rect x="171.03" y="215.72" width="3.1" height="6.1" fill="#f1f0f3"/>
<rect x="174.75" y="215.72" width="3.1" height="6.1" fill="#f1f0f3"/>
<rect x="178.48" y="215.72" width="3.1" height="6.1" fill="#f1f0f3"/>
<rect x="182.2" y="215.72" width="3.1" height="6.1" fill="#f1f0f3"/>
<rect x="185.93" y="215.72" width="3.1" height="6.1" fill="#f1f0f3"/>
<rect x="189.65" y="215.72" width="3.1" height="6.1" fill="#f1f0f3"/>
<rect x="193.38" y="215.72" width="3.1" height="6.1" fill="#f1f0f3"/>
<rect x="197.1" y="215.72" width="3.1" height="6.1" fill="#f1f0f3"/>
<rect x="200.83" y="215.72" width="3.1" height="6.1" fill="#f1f0f3"/>
<rect x="204.55" y="215.72" width="3.1" height="6.1" fill="#f1f0f3"/>
<rect x="208.28" y="215.72" width="3.1" height="6.1" fill="#f1f0f3"/>
<rect x="212" y="215.72" width="3.1" height="6.1" fill="#f1f0f3"/>
<rect x="215.73" y="215.72" width="3.1" height="6.1" fill="#f1f0f3"/>
<rect x="219.45" y="215.72" width="3.1" height="6.1" fill="#f1f0f3"/>
<rect x="223.18" y="215.72" width="3.1" height="6.1" fill="#f1f0f3"/>
<rect x="226.9" y="215.72" width="3.1" height="6.1" fill="#f1f0f3"/>
<rect x="230.63" y="215.72" width="3.1" height="6.1" fill="#f1f0f3"/>
<rect x="234.35" y="215.72" width="3.1" height="6.1" fill="#f1f0f3"/>
<rect x="238.08" y="215.72" width="3.1" height="6.1" fill="#f1f0f3"/>
<rect x="92.8" y="222.59" width="3.1" height="6.1" fill="#f1f0f3"/>
<rect x="96.52" y="222.59" width="3.1" height="6.1" fill="#f1f0f3"/>
<rect x="100.25" y="222.59" width="3.1" height="6.1" fill="#f1f0f3"/>
<rect x="103.97" y="222.59" width="3.1" height="6.1" fill="#f1f0f3"/>
<rect x="107.7" y="222.59" width="3.1" height="6.1" fill="#f1f0f3"/>
<rect x="111.42" y="222.59" width="3.1" height="6.1" fill="#f1f0f3"/>
<rect x="115.15" y="222.59" width="3.1" height="6.1" fill="#f1f0f3"/>
<rect x="118.88" y="222.59" width="3.1" height="6.1" fill="#f1f0f3"/>
<rect x="122.6" y="222.59" width="3.1" height="6.1" fill="#f1f0f3"/>
<rect x="126.33" y="222.59" width="3.1" height="6.1" fill="#f1f0f3"/>
<rect x="130.05" y="222.59" width="3.1" height="6.1" fill="#1e3f82"/>
<rect x="133.78" y="222.59" width="3.1" height="6.1" fill="#f1f0f3"/>
<rect x="137.5" y="222.59" width="3.1" height="6.1" fill="#f1f0f3"/>
<rect x="141.23" y="222.59" width="3.1" height="6.1" fill="#f1f0f3"/>
<rect x="144.95" y="222.59" width="3.1" height="6.1" fill="#f1f0f3"/>
<rect x="148.68" y="222.59" width="3.1" height="6.1" fill="#f1f0f3"/>
<rect x="152.4" y="222.59" width="3.1" height="6.1" fill="#f1f0f3"/>
<rect x="156.12" y="222.59" width="3.1" height="6.1" fill="#1e3f82"/>
<rect x="159.85" y="222.59" width="3.1" height="6.1" fill="#f1f0f3"/>
<rect x="163.58" y="222.59" width="3.1" height="6.1" fill="#f1f0f3"/>
<rect x="167.3" y="222.59" width="3.1" height="6.1" fill="#f1f0f3"/>
<rect x="171.03" y="222.59" width="3.1" height="6.1" fill="#f1f0f3"/>
<rect x="174.75" y="222.59" width="3.1" height="6.1" fill="#f1f0f3"/>
<rect x="178.48" y="222.59" width="3.1" height="6.1" fill="#f1f0f3"/>
<rect x="182.2" y="222.59" width="3.1" height="6.1" fill="#f1f0f3"/>
<rect x="185.93" y="222.59" width="3.1" height="6.1" fill="#f1f0f3"/>
<rect x="189.65" y="222.59" width="3.1" height="6.1" fill="#f1f0f3"/>
<rect x="193.38" y="222.59" width="3.1" height="6.1" fill="#f1f0f3"/>
<rect x="197.1" y="222.59" width="3.1" height="6.1" fill="#f1f0f3"/>
<rect x="200.83" y="222.59" width="3.1" height="6.1" fill="#f1f0f3"/>
<rect x="204.55" y="222.59" width="3.1" height="6.1" fill="#f1f0f3"/>
<rect x="208.28" y="222.59" width="3.1" height="6.1" fill="#f1f0f3"/>
<rect x="212" y="222.59" width="3.1" height="6.1" fill="#f1f0f3"/>
<rect x="215.73" y="222.59" width="3.1" height="6.1" fill="#f1f0f3"/>
<rect x="219.45" y="222.59" width="3.1" height="6.1" fill="#f1f0f3"/>
<rect x="223.18" y="222.59" width="3.1" height="6.1" fill="#f1f0f3"/>
<rect x="226.9" y="222.59" width="3.1" height="6.1" fill="#f1f0f3"/>
<rect x="230.63" y="222.59" width="3.1" height="6.1" fill="#f1f0f3"/>
<rect x="234.35" y="222.59" width="3.1" height="6.1" fill="#f1f0f3"/>
<rect x="238.08" y="222.59" width="3.1" height="6.1" fill="#f1f0f3"/>
<rect x="92.8" y="229.46" width="3.1" height="6.1" fill="#f1f0f3"/>
<rect x="96.52" y="229.46" width="3.1" height="6.1" fill="#f1f0f3"/>
<rect x="100.25" y="229.46" width="3.1" height="6.1" fill="#f1f0f3"/>
<rect x="103.97" y="229.46" width="3.1" height="6.1" fill="#f1f0f3"/>
<rect x="107.7" y="229.46" width="3.1" height="6.1" fill="#f1f0f3"/>
<rect x="111.42" y="229.46" width="3.1" height="6.1" fill="#f1f0f3"/>
<rect x="115.15" y="229.46" width="3.1" height="6.1" fill="#f1f0f3"/>
<rect x="118.88" y="229.46" width="3.1" height="6.1" fill="#f1f0f3"/>
<rect x="122.6" y="229.46" width="3.1" height="6.1" fill="#f1f0f3"/>
<rect x="126.33" y="229.46" width="3.1" height="6.1" fill="#f1f0f3"/>
<rect x="130.05" y="229.46" width="3.1" height="6.1" fill="#f1f0f3"/>
<rect x="133.78" y="229.46" width="3.1" height="6.1" fill="#f1f0f3"/>
<rect x="137.5" y="229.46" width="3.1" height="6.1" fill="#f1f0f3"/>
<rect x="141.23" y="229.46" width="3.1" height="6.1" fill="#f1f0f3"/>
<rect x="144.95" y="229.46" width="3.1" height="6.1" fill="#f1f0f3"/>
<rect x="148.68" y="229.46" width="3.1" height="6.1" fill="#f1f0f3"/>
<rect x="152.4" y="229.46" width="3.1" height="6.1" fill="#1e3f82"/>
<rect x="156.12" y="229.46" width="3.1" height="6.1" fill="#f1f0f3"/>
<rect x="159.85" y="229.46" width="3.1" height="6.1" fill="#f1f0f3"/>
<rect x="163.58" y="229.46" width="3.1" height="6.1" fill="#f1f0f3"/>
<rect x="167.3" y="229.46" width="3.1" height="6.1" fill="#f1f0f3"/>
<rect x="171.03" y="229.46" width="3.1" height="6.1" fill="#f1f0f3"/>
<rect x="174.75" y="229.46" width="3.1" height="6.1" fill="#f1f0f3"/>
<rect x="178.48" y="229.46" width="3.1" height="6.1" fill="#f1f0f3"/>
<rect x="182.2" y="229.46" width="3.1" height="6.1" fill="#f1f0f3"/>
<rect x="185.93" y="229.46" width="3.1" height="6.1" fill="#f1f0f3"/>
<rect x="189.65" y="229.46" width="3.1" height="6.1" fill="#f1f0f3"/>
<rect x="193.38" y="229.46" width="3.1" height="6.1" fill="#f1f0f3"/>
<rect x="197.1" y="229.46" width="3.1" height="6.1" fill="#f1f0f3"/>
<rect x="200.83" y="229.46" width="3.1" height="6.1" fill="#f1f0f3"/>
<rect x="204.55" y="229.46" width="3.1" height="6.1" fill="#f1f0f3"/>
<rect x="208.28" y="229.46" width="3.1" height="6.1" fill="#f1f0f3"/>
<rect x="212" y="229.46" width="3.1" height="6.1" fill="#f1f0f3"/>
<rect x="215.73" y="229.46" width="3.1" height="6.1" fill="#f1f0f3"/>
<rect x="219.45" y="229.46" width="3.1" height="6.1" fill="#f1f0f3"/>
<rect x="223.18" y="229.46" width="3.1" height="6.1" fill="#f1f0f3"/>
<rect x="226.9" y="229.46" width="3.1" height="6.1" fill="#f1f0f3"/>
<rect x="230.63" y="229.46" width="3.1" height="6.1" fill="#f1f0f3"/>
<rect x="234.35" y="229.46" width="3.1" height="6.1" fill="#f1f0f3"/>
<rect x="238.08" y="229.46" width="3.1" height="6.1" fill="#f1f0f3"/>
<rect x="92.8" y="236.32" width="3.1" height="6.1" fill="#d9d8db"/>
<rect x="96.52" y="236.32" width="3.1" height="6.1" fill="#d9d8db"/>
<rect x="100.25" y="236.32" width="3.1" height="6.1" fill="#d9d8db"/>
<rect x="103.97" y="236.32" width="3.1" height="6.1" fill="#d9d8db"/>
<rect x="107.7" y="236.32" width="3.1" height="6.1" fill="#1e3f82"/>
<rect x="111.42" y="236.32" width="3.1" height="6.1" fill="#d9d8db"/>
<rect x="115.15" y="236.32" width="3.1" height="6.1" fill="#d9d8db"/>
<rect x="118.88" y="236.32" width="3.1" height="6.1" fill="#d9d8db"/>
<rect x="122.6" y="236.32" width="3.1" height="6.1" fill="#1e3f82"/>
<rect x="126.33" y="236.32" width="3.1" height="6.1" fill="#d9d8db"/>
<rect x="130.05" y="236.32" width="3.1" height="6.1" fill="#d9d8db"/>
<rect x="133.78" y="236.32" width="3.1" height="6.1" fill="#1e3f82"/>
<rect x="137.5" y="236.32" width="3.1" height="6.1" fill="#1e3f82"/>
<rect x="141.23" y="236.32" width="3.1" height="6.1" fill="#d9d8db"/>
<rect x="144.95" y="236.32" width="3.1" height="6.1" fill="#d9d8db"/>
<rect x="148.68" y="236.32" width="3.1" height="6.1" fill="#d9d8db"/>
<rect x="152.4" y="236.32" width="3.1" height="6.1" fill="#d9d8db"/>
<rect x="156.12" y="236.32" width="3.1" height="6.1" fill="#d9d8db"/>
<rect x="159.85" y="236.32" width="3.1" height="6.1" fill="#d9d8db"/>
<rect x="163.58" y="236.32" width="3.1" height="6.1" fill="#d9d8db"/>
<rect x="167.3" y="236.32" width="3.1" height="6.1" fill="#d9d8db"/>
<rect x="171.03" y="236.32" width="3.1" height="6.1" fill="#d9d8db"/>
<rect x="174.75" y="236.32" width="3.1" height="6.1" fill="#d9d8db"/>
<rect x="178.48" y="236.32" width="3.1" height="6.1" fill="#d9d8db"/>
<rect x="182.2" y="236.32" width="3.1" height="6.1" fill="#d9d8db"/>
<rect x="185.93" y="236.32" width="3.1" height="6.1" fill="#d9d8db"/>
<rect x="189.65" y="236.32" width="3.1" height="6.1" fill="#d9d8db"/>
<rect x="193.38" y="236.32" width="3.1" height="6.1" fill="#d9d8db"/>
<rect x="197.1" y="236.32" width="3.1" height="6.1" fill="#d9d8db"/>
<rect x="200.83" y="236.32" width="3.1" height="6.1" fill="#d9d8db"/>
<rect x="204.55" y="236.32" width="3.1" height="6.1" fill="#d9d8db"/>
<rect x="208.28" y="236.32" width="3.1" height="6.1" fill="#d9d8db"/>
<rect x="212" y="236.32" width="3.1" height="6.1" fill="#d9d8db"/>
<rect x="215.73" y="236.32" width="3.1" height="6.1" fill="#d9d8db"/>
<rect x="219.45" y="236.32" width="3.1" height="6.1" fill="#d9d8db"/>
<rect x="223.18" y="236.32" width="3.1" height="6.1" fill="#d9d8db"/>
<rect x="226.9" y="236.32" width="3.1" height="6.1" fill="#d9d8db"/>
<rect x="230.63" y="236.32" width="3.1" height="6.1" fill="#d9d8db"/>
<rect x="234.35" y="236.32" width="3.1" height="6.1" fill="#d9d8db"/>
<rect x="238.08" y="236.32" width="3.1" height="6.1" fill="#d9d8db"/>
<rect x="92.8" y="243.19" width="3.1" height="6.1" fill="#d9d8db"/>
<rect x="96.52" y="243.19" width="3.1" height="6.1" fill="#d9d8db"/>
<rect x="100.25" y="243.19" width="3.1" height="6.1" fill="#d9d8db"/>
<rect x="103.97" y="243.19" width="3.1" height="6.1" fill="#d9d8db"/>
<rect x="107.7" y="243.19" width="3.1" height="6.1" fill="#d9d8db"/>
<rect x="111.42" y="243.19" width="3.1" height="6.1" fill="#d9d8db"/>
<rect x="115.15" y="243.19" width="3.1" height="6.1" fill="#d9d8db"/>
<rect x="118.88" y="243.19" width="3.1" height="6.1" fill="#d9d8db"/>
<rect x="122.6" y="243.19" width="3.1" height="6.1" fill="#d9d8db"/>
<rect x="126.33" y="243.19" width="3.1" height="6.1" fill="#d9d8db"/>
<rect x="130.05" y="243.19" width="3.1" height="6.1" fill="#d9d8db"/>
<rect x="133.78" y="243.19" width="3.1" height="6.1" fill="#d9d8db"/>
<rect x="137.5" y="243.19" width="3.1" height="6.1" fill="#1e3f82"/>
<rect x="141.23" y="243.19" width="3.1" height="6.1" fill="#d9d8db"/>
<rect x="144.95" y="243.19" width="3.1" height="6.1" fill="#d9d8db"/>
<rect x="148.68" y="243.19" width="3.1" height="6.1" fill="#d9d8db"/>
<rect x="152.4" y="243.19" width="3.1" height="6.1" fill="#d9d8db"/>
<rect x="156.12" y="243.19" width="3.1" height="6.1" fill="#d9d8db"/>
<rect x="159.85" y="243.19" width="3.1" height="6.1" fill="#d9d8db"/>
<rect x="163.58" y="243.19" width="3.1" height="6.1" fill="#d9d8db"/>
<rect x="167.3" y="243.19" width="3.1" height="6.1" fill="#d9d8db"/>
<rect x="171.03" y="243.19" width="3.1" height="6.1" fill="#d9d8db"/>
<rect x="174.75" y="243.19" width="3.1" height="6.1" fill="#d9d8db"/>
<rect x="178.48" y="243.19" width="3.1" height="6.1" fill="#d9d8db"/>
<rect x="182.2" y="243.19" width="3.1" height="6.1" fill="#d9d8db"/>
<rect x="185.93" y="243.19" width="3.1" height="6.1" fill="#d9d8db"/>
<rect x="189.65" y="243.19" width="3.1" height="6.1" fill="#d9d8db"/>
<rect x="193.38" y="243.19" width="3.1" height="6.1" fill="#d9d8db"/>
<rect x="197.1" y="243.19" width="3.1" height="6.1" fill="#d9d8db"/>
<rect x="200.83" y="243.19" width="3.1" height="6.1" fill="#d9d8db"/>
<rect x="204.55" y="243.19" width="3.1" height="6.1" fill="#d9d8db"/>
<rect x="208.28" y="243.19" width="3.1" height="6.1" fill="#d9d8db"/>
<rect x="212" y="243.19" width="3.1" height="6.1" fill="#d9d8db"/>
<rect x="215.73" y="243.19" width="3.1" height="6.1" fill="#d9d8db"/>
<rect x="219.45" y="243.19" width="3.1" height="6.1" fill="#d9d8db"/>
<rect x="223.18" y="243.19" width="3.1" height="6.1" fill="#d9d8db"/>
<rect x="226.9" y="243.19" width="3.1" height="6.1" fill="#d9d8db"/>
<rect x="230.63" y="243.19" width="3.1" height="6.1" fill="#d9d8db"/>
<rect x="234.35" y="243.19" width="3.1" height="6.1" fill="#d9d8db"/>
<rect x="238.08" y="243.19" width="3.1" height="6.1" fill="#d9d8db"/>
<rect x="92.8" y="250.06" width="3.1" height="6.1" fill="#d9d8db"/>
<rect x="96.52" y="250.06" width="3.1" height="6.1" fill="#d9d8db"/>
<rect x="100.25" y="250.06" width="3.1" height="6.1" fill="#d9d8db"/>
<rect x="103.97" y="250.06" width="3.1" height="6.1" fill="#d9d8db"/>
<rect x="107.7" y="250.06" width="3.1" height="6.1" fill="#d9d8db"/>
<rect x="111.42" y="250.06" width="3.1" height="6.1" fill="#d9d8db"/>
<rect x="115.15" y="250.06" width="3.1" height="6.1" fill="#d9d8db"/>
<rect x="118.88" y="250.06" width="3.1" height="6.1" fill="#d9d8db"/>
<rect x="122.6" y="250.06" width="3.1" height="6.1" fill="#d9d8db"/>
<rect x="126.33" y="250.06" width="3.1" height="6.1" fill="#d9d8db"/>
<rect x="130.05" y="250.06" width="3.1" height="6.1" fill="#d9d8db"/>
<rect x="133.78" y="250.06" width="3.1" height="6.1" fill="#d9d8db"/>
<rect x="137.5" y="250.06" width="3.1" height="6.1" fill="#d9d8db"/>
<rect x="141.23" y="250.06" width="3.1" height="6.1" fill="#d9d8db"/>
<rect x="144.95" y="250.06" width="3.1" height="6.1" fill="#1e3f82"/>
<rect x="148.68" y="250.06" width="3.1" height="6.1" fill="#d9d8db"/>
<rect x="152.4" y="250.06" width="3.1" height="6.1" fill="#d9d8db"/>
<rect x="156.12" y="250.06" width="3.1" height="6.1" fill="#d9d8db"/>
<rect x="159.85" y="250.06" width="3.1" height="6.1" fill="#d9d8db"/>
<rect x="163.58" y="250.06" width="3.1" height="6.1" fill="#d9d8db"/>
<rect x="167.3" y="250.06" width="3.1" height="6.1" fill="#d9d8db"/>
<rect x="171.03" y="250.06" width="3.1" height="6.1" fill="#d9d8db"/>
<rect x="174.75" y="250.06" width="3.1" height="6.1" fill="#d9d8db"/>
<rect x="178.48" y="250.06" width="3.1" height="6.1" fill="#d9d8db"/>
<rect x="182.2" y="250.06" width="3.1" height="6.1" fill="#d9d8db"/>
<rect x="185.93" y="250.06" width="3.1" height="6.1" fill="#d9d8db"/>
<rect x="189.65" y="250.06" width="3.1" height="6.1" fill="#d9d8db"/>
<rect x="193.38" y="250.06" width="3.1" height="6.1" fill="#d9d8db"/>
<rect x="197.1" y="250.06" width="3.1" height="6.1" fill="#d9d8db"/>
<rect x="200.83" y="250.06" width="3.1" height="6.1" fill="#d9d8db"/>
<rect x="204.55" y="250.06" width="3.1" height="6.1" fill="#d9d8db"/>
<rect x="208.28" y="250.06" width="3.1" height="6.1" fill="#d9d8db"/>
<rect x="212" y="250.06" width="3.1" height="6.1" fill="#d9d8db"/>
<rect x="215.73" y="250.06" width="3.1" height="6.1" fill="#d9d8db"/>
<rect x="219.45" y="250.06" width="3.1" height="6.1" fill="#d9d8db"/>
<rect x="223.18" y="250.06" width="3.1" height="6.1" fill="#d9d8db"/>
<rect x="226.9" y="250.06" width="3.1" height="6.1" fill="#d9d8db"/>
<rect x="230.63" y="250.06" width="3.1" height="6.1" fill="#d9d8db"/>
<rect x="234.35" y="250.06" width="3.1" height="6.1" fill="#d9d8db"/>
<rect x="238.08" y="250.06" width="3.1" height="6.1" fill="#d9d8db"/>
<rect x="92.8" y="256.93" width="3.1" height="6.1" fill="#f1f0f3"/>
<rect x="96.52" y="256.93" width="3.1" height="6.1" fill="#f1f0f3"/>
<rect x="100.25" y="256.93" width="3.1" height="6.1" fill="#f1f0f3"/>
<rect x="103.97" y="256.93" width="3.1" height="6.1" fill="#f1f0f3"/>
<rect x="107.7" y="256.93" width="3.1" height="6.1" fill="#f1f0f3"/>
<rect x="111.42" y="256.93" width="3.1" height="6.1" fill="#f1f0f3"/>
<rect x="115.15" y="256.93" width="3.1" height="6.1" fill="#f1f0f3"/>
<rect x="118.88" y="256.93" width="3.1" height="6.1" fill="#f1f0f3"/>
<rect x="122.6" y="256.93" width="3.1" height="6.1" fill="#f1f0f3"/>
<rect x="126.33" y="256.93" width="3.1" height="6.1" fill="#f1f0f3"/>
<rect x="130.05" y="256.93" width="3.1" height="6.1" fill="#f1f0f3"/>
<rect x="133.78" y="256.93" width="3.1" height="6.1" fill="#f1f0f3"/>
<rect x="137.5" y="256.93" width="3.1" height="6.1" fill="#1e3f82"/>
<rect x="141.23" y="256.93" width="3.1" height="6.1" fill="#f1f0f3"/>
<rect x="144.95" y="256.93" width="3.1" height="6.1" fill="#f1f0f3"/>
<rect x="148.68" y="256.93" width="3.1" height="6.1" fill="#f1f0f3"/>
<rect x="152.4" y="256.93" width="3.1" height="6.1" fill="#f1f0f3"/>
<rect x="156.12" y="256.93" width="3.1" height="6.1" fill="#f1f0f3"/>
<rect x="159.85" y="256.93" width="3.1" height="6.1" fill="#f1f0f3"/>
<rect x="163.58" y="256.93" width="3.1" height="6.1" fill="#f1f0f3"/>
<rect x="167.3" y="256.93" width="3.1" height="6.1" fill="#f1f0f3"/>
<rect x="171.03" y="256.93" width="3.1" height="6.1" fill="#f1f0f3"/>
<rect x="174.75" y="256.93" width="3.1" height="6.1" fill="#f1f0f3"/>
<rect x="178.48" y="256.93" width="3.1" height="6.1" fill="#f1f0f3"/>
<rect x="182.2" y="256.93" width="3.1" height="6.1" fill="#f1f0f3"/>
<rect x="185.93" y="256.93" width="3.1" height="6.1" fill="#1e3f82"/>
<rect x="189.65" y="256.93" width="3.1" height="6.1" fill="#f1f0f3"/>
<rect x="193.38" y="256.93" width="3.1" height="6.1" fill="#f1f0f3"/>
<rect x="197.1" y="256.93" width="3.1" height="6.1" fill="#f1f0f3"/>
<rect x="200.83" y="256.93" width="3.1" height="6.1" fill="#f1f0f3"/>
<rect x="204.55" y="256.93" width="3.1" height="6.1" fill="#f1f0f3"/>
<rect x="208.28" y="256.93" width="3.1" height="6.1" fill="#f1f0f3"/>
<rect x="212" y="256.93" width="3.1" height="6.1" fill="#f1f0f3"/>
<rect x="215.73" y="256.93" width="3.1" height="6.1" fill="#f1f0f3"/>
<rect x="219.45" y="256.93" width="3.1" height="6.1" fill="#f1f0f3"/>
<rect x="223.18" y="256.93" width="3.1" height="6.1" fill="#f1f0f3"/>
<rect x="226.9" y="256.93" width="3.1" height="6.1" fill="#1e3f82"/>
<rect x="230.63" y="256.93" width="3.1" height="6.1" fill="#1e3f82"/>
<rect x="234.35" y="256.93" width="3.1" height="6.1" fill="#f1f0f3"/>
<rect x="238.08" y="256.93" width="3.1" height="6.1" fill="#f1f0f3"/>
<rect x="92.8" y="263.79" width="3.1" height="6.1" fill="#f1f0f3"/>
<rect x="96.52" y="263.79" width="3.1" height="6.1" fill="#f1f0f3"/>
<rect x="100.25" y="263.79" width="3.1" height="6.1" fill="#f1f0f3"/>
<rect x="103.97" y="263.79" width="3.1" height="6.1" fill="#f1f0f3"/>
<rect x="107.7" y="263.79" width="3.1" height="6.1" fill="#1e3f82"/>
<rect x="111.42" y="263.79" width="3.1" height="6.1" fill="#f1f0f3"/>
<rect x="115.15" y="263.79" width="3.1" height="6.1" fill="#f1f0f3"/>
<rect x="118.88" y="263.79" width="3.1" height="6.1" fill="#f1f0f3"/>
<rect x="122.6" y="263.79" width="3.1" height="6.1" fill="#f1f0f3"/>
<rect x="126.33" y="263.79" width="3.1" height="6.1" fill="#f1f0f3"/>
<rect x="130.05" y="263.79" width="3.1" height="6.1" fill="#f1f0f3"/>
<rect x="133.78" y="263.79" width="3.1" height="6.1" fill="#f1f0f3"/>
<rect x="137.5" y="263.79" width="3.1" height="6.1" fill="#f1f0f3"/>
<rect x="141.23" y="263.79" width="3.1" height="6.1" fill="#f1f0f3"/>
<rect x="144.95" y="263.79" width="3.1" height="6.1" fill="#f1f0f3"/>
<rect x="148.68" y="263.79" width="3.1" height="6.1" fill="#f1f0f3"/>
<rect x="152.4" y="263.79" width="3.1" height="6.1" fill="#f1f0f3"/>
<rect x="156.12" y="263.79" width="3.1" height="6.1" fill="#f1f0f3"/>
<rect x="159.85" y="263.79" width="3.1" height="6.1" fill="#f1f0f3"/>
<rect x="163.58" y="263.79" width="3.1" height="6.1" fill="#f1f0f3"/>
<rect x="167.3" y="263.79" width="3.1" height="6.1" fill="#f1f0f3"/>
<rect x="171.03" y="263.79" width="3.1" height="6.1" fill="#f1f0f3"/>
<rect x="174.75" y="263.79" width="3.1" height="6.1" fill="#f1f0f3"/>
<rect x="178.48" y="263.79" width="3.1" height="6.1" fill="#f1f0f3"/>
<rect x="182.2" y="263.79" width="3.1" height="6.1" fill="#f1f0f3"/>
<rect x="185.93" y="263.79" width="3.1" height="6.1" fill="#f1f0f3"/>
<rect x="189.65" y="263.79" width="3.1" height="6.1" fill="#f1f0f3"/>
<rect x="193.38" y="263.79" width="3.1" height="6.1" fill="#f1f0f3"/>
<rect x="197.1" y="263.79" width="3.1" height="6.1" fill="#f1f0f3"/>
<rect x="200.83" y="263.79" width="3.1" height="6.1" fill="#f1f0f3"/>
<rect x="204.55" y="263.79" width="3.1" height="6.1" fill="#f1f0f3"/>
<rect x="208.28" y="263.79" width="3.1" height="6.1" fill="#f1f0f3"/>
<rect x="212" y="263.79" width="3.1" height="6.1" fill="#f1f0f3"/>
<rect x="215.73" y="263.79" width="3.1" height="6.1" fill="#f1f0f3"/>
<rect x="219.45" y="263.79" width="3.1" height="6.1" fill="#f1f0f3"/>
<rect x="223.18" y="263.79" width="3.1" height="6.1" fill="#f1f0f3"/>
<rect x="226.9" y="263.79" width="3.1" height="6.1" fill="#f1f0f3"/>
<rect x="230.63" y="263.79" width="3.1" height="6.1" fill="#f1f0f3"/>
<rect x="234.35" y="263.79" width="3.1" height="6.1" fill="#f1f0f3"/>
<rect x="238.08" y="263.79" width="3.1" height="6.1" fill="#f1f0f3"/>
<rect x="92.8" y="270.66" width="3.1" height="6.1" fill="#f1f0f3"/>
<rect x="96.52" y="270.66" width="3.1" height="6.1" fill="#f1f0f3"/>
<rect x="100.25" y="270.66" width="3.1" height="6.1" fill="#f1f0f3"/>
<rect x="103.97" y="270.66" width="3.1" height="6.1" fill="#f1f0f3"/>
<rect x="107.7" y="270.66" width="3.1" height="6.1" fill="#1e3f82"/>
<rect x="111.42" y="270.66" width="3.1" height="6.1" fill="#f1f0f3"/>
<rect x="115.15" y="270.66" width="3.1" height="6.1" fill="#f1f0f3"/>
<rect x="118.88" y="270.66" width="3.1" height="6.1" fill="#f1f0f3"/>
<rect x="122.6" y="270.66" width="3.1" height="6.1" fill="#f1f0f3"/>
<rect x="126.33" y="270.66" width="3.1" height="6.1" fill="#f1f0f3"/>
<rect x="130.05" y="270.66" width="3.1" height="6.1" fill="#f1f0f3"/>
<rect x="133.78" y="270.66" width="3.1" height="6.1" fill="#f1f0f3"/>
<rect x="137.5" y="270.66" width="3.1" height="6.1" fill="#f1f0f3"/>
<rect x="141.23" y="270.66" width="3.1" height="6.1" fill="#f1f0f3"/>
<rect x="144.95" y="270.66" width="3.1" height="6.1" fill="#f1f0f3"/>
<rect x="148.68" y="270.66" width="3.1" height="6.1" fill="#f1f0f3"/>
<rect x="152.4" y="270.66" width="3.1" height="6.1" fill="#f1f0f3"/>
<rect x="156.12" y="270.66" width="3.1" height="6.1" fill="#f1f0f3"/>
<rect x="159.85" y="270.66" width="3.1" height="6.1" fill="#f1f0f3"/>
<rect x="163.58" y="270.66" width="3.1" height="6.1" fill="#1e3f82"/>
<rect x="167.3" y="270.66" width="3.1" height="6.1" fill="#f1f0f3"/>
<rect x="171.03" y="270.66" width="3.1" height="6.1" fill="#f1f0f3"/>
<rect x="174.75" y="270.66" width="3.1" height="6.1" fill="#f1f0f3"/>
<rect x="178.48" y="270.66" width="3.1" height="6.1" fill="#f1f0f3"/>
<rect x="182.2" y="270.66" width="3.1" height="6.1" fill="#f1f0f3"/>
<rect x="185.93" y="270.66" width="3.1" height="6.1" fill="#f1f0f3"/>
<rect x="189.65" y="270.66" width="3.1" height="6.1" fill="#f1f0f3"/>
<rect x="193.38" y="270.66" width="3.1" height="6.1" fill="#f1f0f3"/>
<rect x="197.1" y="270.66" width="3.1" height="6.1" fill="#f1f0f3"/>
<rect x="200.83" y="270.66" width="3.1" height="6.1" fill="#f1f0f3"/>
<rect x="204.55" y="270.66" width="3.1" height="6.1" fill="#f1f0f3"/>
<rect x="208.28" y="270.66" width="3.1" height="6.1" fill="#f1f0f3"/>
<rect x="212" y="270.66" width="3.1" height="6.1" fill="#f1f0f3"/>
<rect x="215.73" y="270.66" width="3.1" height="6.1" fill="#f1f0f3"/>
<rect x="219.45" y="270.66" width="3.1" height="6.1" fill="#f1f0f3"/>
<rect x="223.18" y="270.66" width="3.1" height="6.1" fill="#f1f0f3"/>
<rect x="226.9" y="270.66" width="3.1" height="6.1" fill="#f1f0f3"/>
<rect x="230.63" y="270.66" width="3.1" height="6.1" fill="#f1f0f3"/>
<rect x="234.35" y="270.66" width="3.1" height="6.1" fill="#f1f0f3"/>
<rect x="238.08" y="270.66" width="3.1" height="6.1" fill="#f1f0f3"/>
<rect x="92.8" y="277.53" width="3.1" height="6.1" fill="#f1f0f3"/>
<rect x="96.52" y="277.53" width="3.1" height="6.1" fill="#f1f0f3"/>
<rect x="100.25" y="277.53" width="3.1" height="6.1" fill="#f1f0f3"/>
<rect x="103.97" y="277.53" width="3.1" height="6.1" fill="#f1f0f3"/>
<rect x="107.7" y="277.53" width="3.1" height="6.1" fill="#f1f0f3"/>
<rect x="111.42" y="277.53" width="3.1" height="6.1" fill="#f1f0f3"/>
<rect x="115.15" y="277.53" width="3.1" height="6.1" fill="#f1f0f3"/>
<rect x="118.88" y="277.53" width="3.1" height="6.1" fill="#f1f0f3"/>
<rect x="122.6" y="277.53" width="3.1" height="6.1" fill="#f1f0f3"/>
<rect x="126.33" y="277.53" width="3.1" height="6.1" fill="#f1f0f3"/>
<rect x="130.05" y="277.53" width="3.1" height="6.1" fill="#f1f0f3"/>
<rect x="133.78" y="277.53" width="3.1" height="6.1" fill="#f1f0f3"/>
<rect x="137.5" y="277.53" width="3.1" height="6.1" fill="#1e3f82"/>
<rect x="141.23" y="277.53" width="3.1" height="6.1" fill="#f1f0f3"/>
<rect x="144.95" y="277.53" width="3.1" height="6.1" fill="#f1f0f3"/>
<rect x="148.68" y="277.53" width="3.1" height="6.1" fill="#f1f0f3"/>
<rect x="152.4" y="277.53" width="3.1" height="6.1" fill="#f1f0f3"/>
<rect x="156.12" y="277.53" width="3.1" height="6.1" fill="#f1f0f3"/>
<rect x="159.85" y="277.53" width="3.1" height="6.1" fill="#f1f0f3"/>
<rect x="163.58" y="277.53" width="3.1" height="6.1" fill="#f1f0f3"/>
<rect x="167.3" y="277.53" width="3.1" height="6.1" fill="#f1f0f3"/>
<rect x="171.03" y="277.53" width="3.1" height="6.1" fill="#f1f0f3"/>
<rect x="174.75" y="277.53" width="3.1" height="6.1" fill="#f1f0f3"/>
<rect x="178.48" y="277.53" width="3.1" height="6.1" fill="#f1f0f3"/>
<rect x="182.2" y="277.53" width="3.1" height="6.1" fill="#f1f0f3"/>
<rect x="185.93" y="277.53" width="3.1" height="6.1" fill="#f1f0f3"/>
<rect x="189.65" y="277.53" width="3.1" height="6.1" fill="#f1f0f3"/>
<rect x="193.38" y="277.53" width="3.1" height="6.1" fill="#f1f0f3"/>
<rect x="197.1" y="277.53" width="3.1" height="6.1" fill="#f1f0f3"/>
<rect x="200.83" y="277.53" width="3.1" height="6.1" fill="#f1f0f3"/>
<rect x="204.55" y="277.53" width="3.1" height="6.1" fill="#f1f0f3"/>
<rect x="208.28" y="277.53" width="3.1" height="6.1" fill="#f1f0f3"/>
<rect x="212" y="277.53" width="3.1" height="6.1" fill="#f1f0f3"/>
<rect x="215.73" y="277.53" width="3.1" height="6.1" fill="#f1f0f3"/>
<rect x="219.45" y="277.53" width="3.1" height="6.1" fill="#f1f0f3"/>
<rect x="223.18" y="277.53" width="3.1" height="6.1" fill="#f1f0f3"/>
<rect x="226.9" y="277.53" width="3.1" height="6.1" fill="#f1f0f3"/>
<rect x="230.63" y="277.53" width="3.1" height="6.1" fill="#f1f0f3"/>
<rect x="234.35" y="277.53" width="3.1" height="6.1" fill="#f1f0f3"/>
<rect x="238.08" y="277.53" width="3.1" height="6.1" fill="#f1f0f3"/>
<rect x="92.8" y="284.39" width="3.1" height="6.1" fill="#d9d8db"/>
<rect x="96.52" y="284.39" width="3.1" height="6.1" fill="#d9d8db"/>
<rect x="100.25" y="284.39" width="3.1" height="6.1" fill="#d9d8db"/>
<rect x="103.97" y="284.39" width="3.1" height="6.1" fill="#d9d8db"/>
<rect x="107.7" y="284.39" width="3.1" height="6.1" fill="#d9d8db"/>
<rect x="111.42" y="284.39" width="3.1" height="6.1" fill="#d9d8db"/>
<rect x="115.15" y="284.39" width="3.1" height="6.1" fill="#d9d8db"/>
<rect x="118.88" y="284.39" width="3.1" height="6.1" fill="#d9d8db"/>
<rect x="122.6" y="284.39" width="3.1" height="6.1" fill="#d9d8db"/>
<rect x="126.33" y="284.39" width="3.1" height="6.1" fill="#d9d8db"/>
<rect x="130.05" y="284.39" width="3.1" height="6.1" fill="#d9d8db"/>
<rect x="133.78" y="284.39" width="3.1" height="6.1" fill="#d9d8db"/>
<rect x="137.5" y="284.39" width="3.1" height="6.1" fill="#d9d8db"/>
<rect x="141.23" y="284.39" width="3.1" height="6.1" fill="#d9d8db"/>
<rect x="144.95" y="284.39" width="3.1" height="6.1" fill="#d9d8db"/>
<rect x="148.68" y="284.39" width="3.1" height="6.1" fill="#d9d8db"/>
<rect x="152.4" y="284.39" width="3.1" height="6.1" fill="#d9d8db"/>
<rect x="156.12" y="284.39" width="3.1" height="6.1" fill="#d9d8db"/>
<rect x="159.85" y="284.39" width="3.1" height="6.1" fill="#d9d8db"/>
<rect x="163.58" y="284.39" width="3.1" height="6.1" fill="#d9d8db"/>
<rect x="167.3" y="284.39" width="3.1" height="6.1" fill="#d9d8db"/>
<rect x="171.03" y="284.39" width="3.1" height="6.1" fill="#d9d8db"/>
<rect x="174.75" y="284.39" width="3.1" height="6.1" fill="#d9d8db"/>
<rect x="178.48" y="284.39" width="3.1" height="6.1" fill="#d9d8db"/>
<rect x="182.2" y="284.39" width="3.1" height="6.1" fill="#d9d8db"/>
<rect x="185.93" y="284.39" width="3.1" height="6.1" fill="#d9d8db"/>
<rect x="189.65" y="284.39" width="3.1" height="6.1" fill="#d9d8db"/>
<rect x="193.38" y="284.39" width="3.1" height="6.1" fill="#d9d8db"/>
<rect x="197.1" y="284.39" width="3.1" height="6.1" fill="#1e3f82"/>
<rect x="200.83" y="284.39" width="3.1" height="6.1" fill="#d9d8db"/>
<rect x="204.55" y="284.39" width="3.1" height="6.1" fill="#d9d8db"/>
<rect x="208.28" y="284.39" width="3.1" height="6.1" fill="#d9d8db"/>
<rect x="212" y="284.39" width="3.1" height="6.1" fill="#d9d8db"/>
<rect x="215.73" y="284.39" width="3.1" height="6.1" fill="#d9d8db"/>
<rect x="219.45" y="284.39" width="3.1" height="6.1" fill="#d9d8db"/>
<rect x="223.18" y="284.39" width="3.1" height="6.1" fill="#d9d8db"/>
<rect x="226.9" y="284.39" width="3.1" height="6.1" fill="#d9d8db"/>
<rect x="230.63" y="284.39" width="3.1" height="6.1" fill="#d9d8db"/>
<rect x="234.35" y="284.39" width="3.1" height="6.1" fill="#d9d8db"/>
<rect x="238.08" y="284.39" width="3.1" height="6.1" fill="#d9d8db"/>
<rect x="92.8" y="291.26" width="3.1" height="6.1" fill="#f1f0f3"/>
<rect x="96.52" y="291.26" width="3.1" height="6.1" fill="#f1f0f3"/>
<rect x="100.25" y="291.26" width="3.1" height="6.1" fill="#f1f0f3"/>
<rect x="103.97" y="291.26" width="3.1" height="6.1" fill="#f1f0f3"/>
<rect x="107.7" y="291.26" width="3.1" height="6.1" fill="#f1f0f3"/>
<rect x="111.42" y="291.26" width="3.1" height="6.1" fill="#f1f0f3"/>
<rect x="115.15" y="291.26" width="3.1" height="6.1" fill="#f1f0f3"/>
<rect x="118.88" y="291.26" width="3.1" height="6.1" fill="#f1f0f3"/>
<rect x="122.6" y="291.26" width="3.1" height="6.1" fill="#f1f0f3"/>
<rect x="126.33" y="291.26" width="3.1" height="6.1" fill="#f1f0f3"/>
<rect x="130.05" y="291.26" width="3.1" height="6.1" fill="#f1f0f3"/>
<rect x="133.78" y="291.26" width="3.1" height="6.1" fill="#1e3f82"/>
<rect x="137.5" y="291.26" width="3.1" height="6.1" fill="#f1f0f3"/>
<rect x="141.23" y="291.26" width="3.1" height="6.1" fill="#f1f0f3"/>
<rect x="144.95" y="291.26" width="3.1" height="6.1" fill="#f1f0f3"/>
<rect x="148.68" y="291.26" width="3.1" height="6.1" fill="#f1f0f3"/>
<rect x="152.4" y="291.26" width="3.1" height="6.1" fill="#f1f0f3"/>
<rect x="156.12" y="291.26" width="3.1" height="6.1" fill="#f1f0f3"/>
<rect x="159.85" y="291.26" width="3.1" height="6.1" fill="#f1f0f3"/>
<rect x="163.58" y="291.26" width="3.1" height="6.1" fill="#f1f0f3"/>
<rect x="167.3" y="291.26" width="3.1" height="6.1" fill="#f1f0f3"/>
<rect x="171.03" y="291.26" width="3.1" height="6.1" fill="#f1f0f3"/>
<rect x="174.75" y="291.26" width="3.1" height="6.1" fill="#f1f0f3"/>
<rect x="178.48" y="291.26" width="3.1" height="6.1" fill="#f1f0f3"/>
<rect x="182.2" y="291.26" width="3.1" height="6.1" fill="#f1f0f3"/>
<rect x="185.93" y="291.26" width="3.1" height="6.1" fill="#f1f0f3"/>
<rect x="189.65" y="291.26" width="3.1" height="6.1" fill="#f1f0f3"/>
<rect x="193.38" y="291.26" width="3.1" height="6.1" fill="#f1f0f3"/>
<rect x="197.1" y="291.26" width="3.1" height="6.1" fill="#f1f0f3"/>
<rect x="200.83" y="291.26" width="3.1" height="6.1" fill="#f1f0f3"/>
<rect x="204.55" y="291.26" width="3.1" height="6.1" fill="#f1f0f3"/>
<rect x="208.28" y="291.26" width="3.1" height="6.1" fill="#f1f0f3"/>
<rect x="212" y="291.26" width="3.1" height="6.1" fill="#f1f0f3"/>
<rect x="215.73" y="291.26" width="3.1" height="6.1" fill="#1e3f82"/>
<rect x="219.45" y="291.26" width="3.1" height="6.1" fill="#f1f0f3"/>
<rect x="223.18" y="291.26" width="3.1" height="6.1" fill="#f1f0f3"/>
<rect x="226.9" y="291.26" width="3.1" height="6.1" fill="#f1f0f3"/>
<rect x="230.63" y="291.26" width="3.1" height="6.1" fill="#f1f0f3"/>
<rect x="234.35" y="291.26" width="3.1" height="6.1" fill="#f1f0f3"/>
<rect x="238.08" y="291.26" width="3.1" height="6.1" fill="#f1f0f3"/>
<rect x="92.8" y="298.13" width="3.1" height="6.1" fill="#f1f0f3"/>
<rect x="96.52" y="298.13" width="3.1" height="6.1" fill="#f1f0f3"/>
<rect x="100.25" y="298.13" width="3.1" height="6.1" fill="#f1f0f3"/>
<rect x="103.97" y="298.13" width="3.1" height="6.1" fill="#f1f0f3"/>
<rect x="107.7" y="298.13" width="3.1" height="6.1" fill="#f1f0f3"/>
<rect x="111.42" y="298.13" width="3.1" height="6.1" fill="#f1f0f3"/>
<rect x="115.15" y="298.13" width="3.1" height="6.1" fill="#f1f0f3"/>
<rect x="118.88" y="298.13" width="3.1" height="6.1" fill="#f1f0f3"/>
<rect x="122.6" y="298.13" width="3.1" height="6.1" fill="#f1f0f3"/>
<rect x="126.33" y="298.13" width="3.1" height="6.1" fill="#f1f0f3"/>
<rect x="130.05" y="298.13" width="3.1" height="6.1" fill="#f1f0f3"/>
<rect x="133.78" y="298.13" width="3.1" height="6.1" fill="#f1f0f3"/>
<rect x="137.5" y="298.13" width="3.1" height="6.1" fill="#f1f0f3"/>
<rect x="141.23" y="298.13" width="3.1" height="6.1" fill="#f1f0f3"/>
<rect x="144.95" y="298.13" width="3.1" height="6.1" fill="#f1f0f3"/>
<rect x="148.68" y="298.13" width="3.1" height="6.1" fill="#f1f0f3"/>
<rect x="152.4" y="298.13" width="3.1" height="6.1" fill="#f1f0f3"/>
<rect x="156.12" y="298.13" width="3.1" height="6.1" fill="#f1f0f3"/>
<rect x="159.85" y="298.13" width="3.1" height="6.1" fill="#f1f0f3"/>
<rect x="163.58" y="298.13" width="3.1" height="6.1" fill="#f1f0f3"/>
<rect x="167.3" y="298.13" width="3.1" height="6.1" fill="#f1f0f3"/>
<rect x="171.03" y="298.13" width="3.1" height="6.1" fill="#f1f0f3"/>
<rect x="174.75" y="298.13" width="3.1" height="6.1" fill="#1e3f82"/>
<rect x="178.48" y="298.13" width="3.1" height="6.1" fill="#f1f0f3"/>
<rect x="182.2" y="298.13" width="3.1" height="6.1" fill="#f1f0f3"/>
<rect x="185.93" y="298.13" width="3.1" height="6.1" fill="#f1f0f3"/>
<rect x="189.65" y="298.13" width="3.1" height="6.1" fill="#f1f0f3"/>
<rect x="193.38" y="298.13" width="3.1" height="6.1" fill="#f1f0f3"/>
<rect x="197.1" y="298.13" width="3.1" height="6.1" fill="#f1f0f3"/>
<rect x="200.83" y="298.13" width="3.1" height="6.1" fill="#f1f0f3"/>
<rect x="204.55" y="298.13" width="3.1" height="6.1" fill="#f1f0f3"/>
<rect x="208.28" y="298.13" width="3.1" height="6.1" fill="#f1f0f3"/>
<rect x="212" y="298.13" width="3.1" height="6.1" fill="#f1f0f3"/>
<rect x="215.73" y="298.13" width="3.1" height="6.1" fill="#f1f0f3"/>
<rect x="219.45" y="298.13" width="3.1" height="6.1" fill="#f1f0f3"/>
<rect x="223.18" y="298.13" width="3.1" height="6.1" fill="#f1f0f3"/>
<rect x="226.9" y="298.13" width="3.1" height="6.1" fill="#f1f0f3"/>
<rect x="230.63" y="298.13" width="3.1" height="6.1" fill="#f1f0f3"/>
<rect x="234.35" y="298.13" width="3.1" height="6.1" fill="#f1f0f3"/>
<rect x="238.08" y="298.13" width="3.1" height="6.1" fill="#f1f0f3"/>
<rect x="92.8" y="305" width="3.1" height="6.1" fill="#f1f0f3"/>
<rect x="96.52" y="305" width="3.1" height="6.1" fill="#f1f0f3"/>
<rect x="100.25" y="305" width="3.1" height="6.1" fill="#f1f0f3"/>
<rect x="103.97" y="305" width="3.1" height="6.1" fill="#f1f0f3"/>
<rect x="107.7" y="305" width="3.1" height="6.1" fill="#f1f0f3"/>
<rect x="111.42" y="305" width="3.1" height="6.1" fill="#f1f0f3"/>
<rect x="115.15" y="305" width="3.1" height="6.1" fill="#f1f0f3"/>
<rect x="118.88" y="305" width="3.1" height="6.1" fill="#f1f0f3"/>
<rect x="122.6" y="305" width="3.1" height="6.1" fill="#f1f0f3"/>
<rect x="126.33" y="305" width="3.1" height="6.1" fill="#f1f0f3"/>
<rect x="130.05" y="305" width="3.1" height="6.1" fill="#f1f0f3"/>
<rect x="133.78" y="305" width="3.1" height="6.1" fill="#f1f0f3"/>
<rect x="137.5" y="305" width="3.1" height="6.1" fill="#1e3f82"/>
<rect x="141.23" y="305" width="3.1" height="6.1" fill="#f1f0f3"/>
<rect x="144.95" y="305" width="3.1" height="6.1" fill="#f1f0f3"/>
<rect x="148.68" y="305" width="3.1" height="6.1" fill="#f1f0f3"/>
<rect x="152.4" y="305" width="3.1" height="6.1" fill="#f1f0f3"/>
<rect x="156.12" y="305" width="3.1" height="6.1" fill="#f1f0f3"/>
<rect x="159.85" y="305" width="3.1" height="6.1" fill="#f1f0f3"/>
<rect x="163.58" y="305" width="3.1" height="6.1" fill="#f1f0f3"/>
<rect x="167.3" y="305" width="3.1" height="6.1" fill="#f1f0f3"/>
<rect x="171.03" y="305" width="3.1" height="6.1" fill="#f1f0f3"/>
<rect x="174.75" y="305" width="3.1" height="6.1" fill="#f1f0f3"/>
<rect x="178.48" y="305" width="3.1" height="6.1" fill="#f1f0f3"/>
<rect x="182.2" y="305" width="3.1" height="6.1" fill="#f1f0f3"/>
<rect x="185.93" y="305" width="3.1" height="6.1" fill="#f1f0f3"/>
<rect x="189.65" y="305" width="3.1" height="6.1" fill="#f1f0f3"/>
<rect x="193.38" y="305" width="3.1" height="6.1" fill="#f1f0f3"/>
<rect x="197.1" y="305" width="3.1" height="6.1" fill="#1e3f82"/>
<rect x="200.83" y="305" width="3.1" height="6.1" fill="#f1f0f3"/>
<rect x="204.55" y="305" width="3.1" height="6.1" fill="#f1f0f3"/>
<rect x="208.28" y="305" width="3.1" height="6.1" fill="#f1f0f3"/>
<rect x="212" y="305" width="3.1" height="6.1" fill="#f1f0f3"/>
<rect x="215.73" y="305" width="3.1" height="6.1" fill="#f1f0f3"/>
<rect x="219.45" y="305" width="3.1" height="6.1" fill="#f1f0f3"/>
<rect x="223.18" y="305" width="3.1" height="6.1" fill="#f1f0f3"/>
<rect x="226.9" y="305" width="3.1" height="6.1" fill="#f1f0f3"/>
<rect x="230.63" y="305" width="3.1" height="6.1" fill="#f1f0f3"/>
<rect x="234.35" y="305" width="3.1" height="6.1" fill="#f1f0f3"/>
<rect x="238.08" y="305" width="3.1" height="6.1" fill="#f1f0f3"/>
<rect x="92.8" y="311.86" width="3.1" height="6.1" fill="#f1f0f3"/>
<rect x="96.52" y="311.86" width="3.1" height="6.1" fill="#f1f0f3"/>
<rect x="100.25" y="311.86" width="3.1" height="6.1" fill="#f1f0f3"/>
<rect x="103.97" y="311.86" width="3.1" height="6.1" fill="#f1f0f3"/>
<rect x="107.7" y="311.86" width="3.1" height="6.1" fill="#f1f0f3"/>
<rect x="111.42" y="311.86" width="3.1" height="6.1" fill="#f1f0f3"/>
<rect x="115.15" y="311.86" width="3.1" height="6.1" fill="#f1f0f3"/>
<rect x="118.88" y="311.86" width="3.1" height="6.1" fill="#f1f0f3"/>
<rect x="122.6" y="311.86" width="3.1" height="6.1" fill="#f1f0f3"/>
<rect x="126.33" y="311.86" width="3.1" height="6.1" fill="#f1f0f3"/>
<rect x="130.05" y="311.86" width="3.1" height="6.1" fill="#f1f0f3"/>
<rect x="133.78" y="311.86" width="3.1" height="6.1" fill="#f1f0f3"/>
<rect x="137.5" y="311.86" width="3.1" height="6.1" fill="#f1f0f3"/>
<rect x="141.23" y="311.86" width="3.1" height="6.1" fill="#f1f0f3"/>
<rect x="144.95" y="311.86" width="3.1" height="6.1" fill="#f1f0f3"/>
<rect x="148.68" y="311.86" width="3.1" height="6.1" fill="#f1f0f3"/>
<rect x="152.4" y="311.86" width="3.1" height="6.1" fill="#f1f0f3"/>
<rect x="156.12" y="311.86" width="3.1" height="6.1" fill="#f1f0f3"/>
<rect x="159.85" y="311.86" width="3.1" height="6.1" fill="#f1f0f3"/>
<rect x="163.58" y="311.86" width="3.1" height="6.1" fill="#f1f0f3"/>
<rect x="167.3" y="311.86" width="3.1" height="6.1" fill="#f1f0f3"/>
<rect x="171.03" y="311.86" width="3.1" height="6.1" fill="#f1f0f3"/>
<rect x="174.75" y="311.86" width="3.1" height="6.1" fill="#f1f0f3"/>
<rect x="178.48" y="311.86" width="3.1" height="6.1" fill="#f1f0f3"/>
<rect x="182.2" y="311.86" width="3.1" height="6.1" fill="#f1f0f3"/>
<rect x="185.93" y="311.86" width="3.1" height="6.1" fill="#f1f0f3"/>
<rect x="189.65" y="311.86" width="3.1" height="6.1" fill="#f1f0f3"/>
<rect x="193.38" y="311.86" width="3.1" height="6.1" fill="#f1f0f3"/>
<rect x="197.1" y="311.86" width="3.1" height="6.1" fill="#1e3f82"/>
<rect x="200.83" y="311.86" width="3.1" height="6.1" fill="#f1f0f3"/>
<rect x="204.55" y="311.86" width="3.1" height="6.1" fill="#f1f0f3"/>
<rect x="208.28" y="311.86" width="3.1" height="6.1" fill="#f1f0f3"/>
<rect x="212" y="311.86" width="3.1" height="6.1" fill="#f1f0f3"/>
<rect x="215.73" y="311.86" width="3.1" height="6.1" fill="#f1f0f3"/>
<rect x="219.45" y="311.86" width="3.1" height="6.1" fill="#f1f0f3"/>
<rect x="223.18" y="311.86" width="3.1" height="6.1" fill="#f1f0f3"/>
<rect x="226.9" y="311.86" width="3.1" height="6.1" fill="#f1f0f3"/>
<rect x="230.63" y="311.86" width="3.1" height="6.1" fill="#f1f0f3"/>
<rect x="234.35" y="311.86" width="3.1" height="6.1" fill="#f1f0f3"/>
<rect x="238.08" y="311.86" width="3.1" height="6.1" fill="#f1f0f3"/>
<line x1="92.5" y1="48.55" x2="241.5" y2="48.55" stroke="#bdbdbd" stroke-width="1.1"/>
<line x1="92.5" y1="63.6" x2="241.5" y2="63.6" stroke="#777" stroke-width="0.8"/>
<rect x="92.5" y="23.45" width="149" height="10.5" fill="#fff" stroke="none"/>
<line x1="92.1" y1="23.45" x2="241.9" y2="23.45" stroke="#555" stroke-width="0.9"/>
<line x1="92.5" y1="33.95" x2="241.5" y2="33.95" stroke="#8c8c8c" stroke-width="1.1"/>
<line x1="92.5" y1="23.3" x2="92.5" y2="318.28" stroke="#666" stroke-width="0.9"/>
<line x1="241.5" y1="23.3" x2="241.5" y2="318.28" stroke="#777" stroke-width="0.9"/>
<line x1="92.1" y1="318.28" x2="241.9" y2="318.28" stroke="#555" stroke-width="0.9"/>
<line x1="137.4" y1="23.3" x2="137.4" y2="318.68" stroke="#333" stroke-width="1"/>
<text transform="translate(115,31)" font-size="6.6" text-anchor="middle" font-weight="bold" stroke="#111" stroke-width="0.22" fill="#111">Germline</text>
<text transform="translate(189.4,31)" font-size="6.6" text-anchor="middle" font-weight="bold" stroke="#111" stroke-width="0.22" fill="#111">Somatic</text>
<text transform="translate(89.2,39.5)" font-size="6.7" text-anchor="end" font-weight="bold" stroke="#111" stroke-width="0.22" fill="#111">Gender</text>
<text transform="translate(89.2,46.9)" font-size="6.7" text-anchor="end" font-weight="bold" stroke="#111" stroke-width="0.22" fill="#111">Age</text>
<text transform="translate(89.4,54.6) scale(0.97,1)" font-size="6.6" text-anchor="end" stroke="#2a2a2a" stroke-width="0.15" fill="#2a2a2a">RUNX1<tspan font-size="4.7" dy="-2.6">germ/som</tspan></text>
<text transform="translate(89.4,62.2) scale(0.97,1)" font-size="6.6" text-anchor="end" stroke="#2a2a2a" stroke-width="0.15" fill="#2a2a2a">RUNX1<tspan font-size="4.7" dy="-2.6">som</tspan></text>
<text transform="translate(89.5,69.7)" font-size="6.8" textLength="21" lengthAdjust="spacingAndGlyphs" text-anchor="end" stroke="#2a2a2a" stroke-width="0.18" fill="#2a2a2a">CEBPA</text>
<text transform="translate(89.5,76.57)" font-size="6.8" textLength="21" lengthAdjust="spacingAndGlyphs" text-anchor="end" stroke="#2a2a2a" stroke-width="0.18" fill="#2a2a2a">GATA2</text>
<text transform="translate(89.5,83.43)" font-size="6.8" textLength="17" lengthAdjust="spacingAndGlyphs" text-anchor="end" stroke="#2a2a2a" stroke-width="0.18" fill="#2a2a2a">IKZF1</text>
<text transform="translate(89.5,90.3)" font-size="6.8" textLength="19.8" lengthAdjust="spacingAndGlyphs" text-anchor="end" stroke="#2a2a2a" stroke-width="0.18" fill="#2a2a2a">ASXL1</text>
<text transform="translate(89.5,97.17)" font-size="6.8" textLength="38.3" lengthAdjust="spacingAndGlyphs" text-anchor="end" stroke="#2a2a2a" stroke-width="0.18" fill="#2a2a2a">KMT2A_PTD</text>
<text transform="translate(89.5,104.03)" font-size="6.8" textLength="22.6" lengthAdjust="spacingAndGlyphs" text-anchor="end" stroke="#2a2a2a" stroke-width="0.18" fill="#2a2a2a">KMT2C</text>
<text transform="translate(89.5,110.9)" font-size="6.8" textLength="22.6" lengthAdjust="spacingAndGlyphs" text-anchor="end" stroke="#2a2a2a" stroke-width="0.18" fill="#2a2a2a">KMT2D</text>
<text transform="translate(89.5,117.77)" font-size="6.8" textLength="16.3" lengthAdjust="spacingAndGlyphs" text-anchor="end" stroke="#2a2a2a" stroke-width="0.18" fill="#2a2a2a">EZH2</text>
<text transform="translate(89.5,124.64)" font-size="6.8" textLength="18.6" lengthAdjust="spacingAndGlyphs" text-anchor="end" stroke="#2a2a2a" stroke-width="0.18" fill="#2a2a2a">BCOR</text>
<text transform="translate(89.5,131.5)" font-size="6.8" textLength="28" lengthAdjust="spacingAndGlyphs" text-anchor="end" stroke="#2a2a2a" stroke-width="0.18" fill="#2a2a2a">DNMT3A</text>
<text transform="translate(89.5,138.37)" font-size="6.8" textLength="15.4" lengthAdjust="spacingAndGlyphs" text-anchor="end" stroke="#2a2a2a" stroke-width="0.18" fill="#2a2a2a">TET2</text>
<text transform="translate(89.5,145.24)" font-size="6.8" textLength="15.1" lengthAdjust="spacingAndGlyphs" text-anchor="end" stroke="#2a2a2a" stroke-width="0.18" fill="#2a2a2a">IDH1</text>
<text transform="translate(89.5,152.1)" font-size="6.8" textLength="15.1" lengthAdjust="spacingAndGlyphs" text-anchor="end" stroke="#2a2a2a" stroke-width="0.18" fill="#2a2a2a">IDH2</text>
<text transform="translate(89.5,158.97)" font-size="6.8" textLength="13.9" lengthAdjust="spacingAndGlyphs" text-anchor="end" stroke="#2a2a2a" stroke-width="0.18" fill="#2a2a2a">FLT3</text>
<text transform="translate(89.5,165.84)" font-size="6.8" textLength="17.7" lengthAdjust="spacingAndGlyphs" text-anchor="end" stroke="#2a2a2a" stroke-width="0.18" fill="#2a2a2a">NRAS</text>
<text transform="translate(89.5,172.7)" font-size="6.8" textLength="16.7" lengthAdjust="spacingAndGlyphs" text-anchor="end" stroke="#2a2a2a" stroke-width="0.18" fill="#2a2a2a">KRAS</text>
<text transform="translate(89.5,179.57)" font-size="6.8" textLength="24.2" lengthAdjust="spacingAndGlyphs" text-anchor="end" stroke="#2a2a2a" stroke-width="0.18" fill="#2a2a2a">PTPN11</text>
<text transform="translate(89.5,186.44)" font-size="6.8" textLength="12.8" lengthAdjust="spacingAndGlyphs" text-anchor="end" stroke="#2a2a2a" stroke-width="0.18" fill="#2a2a2a">NF1</text>
<text transform="translate(89.5,193.31)" font-size="6.8" textLength="9.8" lengthAdjust="spacingAndGlyphs" text-anchor="end" stroke="#2a2a2a" stroke-width="0.18" fill="#2a2a2a">KIT</text>
<text transform="translate(89.5,200.17)" font-size="6.8" textLength="16.1" lengthAdjust="spacingAndGlyphs" text-anchor="end" stroke="#2a2a2a" stroke-width="0.18" fill="#2a2a2a">JAK2</text>
<text transform="translate(89.5,207.04)" font-size="6.8" textLength="20.1" lengthAdjust="spacingAndGlyphs" text-anchor="end" stroke="#2a2a2a" stroke-width="0.18" fill="#2a2a2a">CSF3R</text>
<text transform="translate(89.5,213.91)" font-size="6.8" textLength="19.2" lengthAdjust="spacingAndGlyphs" text-anchor="end" stroke="#2a2a2a" stroke-width="0.18" fill="#2a2a2a">SRSF2</text>
<text transform="translate(89.5,220.77)" font-size="6.8" textLength="20.5" lengthAdjust="spacingAndGlyphs" text-anchor="end" stroke="#2a2a2a" stroke-width="0.18" fill="#2a2a2a">U2AF1</text>
<text transform="translate(89.5,227.64)" font-size="6.8" textLength="19.2" lengthAdjust="spacingAndGlyphs" text-anchor="end" stroke="#2a2a2a" stroke-width="0.18" fill="#2a2a2a">SF3B1</text>
<text transform="translate(89.5,234.51)" font-size="6.8" textLength="19.8" lengthAdjust="spacingAndGlyphs" text-anchor="end" stroke="#2a2a2a" stroke-width="0.18" fill="#2a2a2a">ZRSR2</text>
<text transform="translate(89.5,241.38)" font-size="6.8" textLength="20.8" lengthAdjust="spacingAndGlyphs" text-anchor="end" stroke="#2a2a2a" stroke-width="0.18" fill="#2a2a2a">STAG2</text>
<text transform="translate(89.5,248.24)" font-size="6.8" textLength="18.2" lengthAdjust="spacingAndGlyphs" text-anchor="end" stroke="#2a2a2a" stroke-width="0.18" fill="#2a2a2a">SMC3</text>
<text transform="translate(89.5,255.11)" font-size="6.8" textLength="21" lengthAdjust="spacingAndGlyphs" text-anchor="end" stroke="#2a2a2a" stroke-width="0.18" fill="#2a2a2a">RAD21</text>
<text transform="translate(89.5,261.98)" font-size="6.8" textLength="15.1" lengthAdjust="spacingAndGlyphs" text-anchor="end" stroke="#2a2a2a" stroke-width="0.18" fill="#2a2a2a">TP53</text>
<text transform="translate(89.5,268.84)" font-size="6.8" textLength="14.2" lengthAdjust="spacingAndGlyphs" text-anchor="end" stroke="#2a2a2a" stroke-width="0.18" fill="#2a2a2a">WT1</text>
<text transform="translate(89.5,275.71)" font-size="6.8" textLength="16.3" lengthAdjust="spacingAndGlyphs" text-anchor="end" stroke="#2a2a2a" stroke-width="0.18" fill="#2a2a2a">PHF6</text>
<text transform="translate(89.5,282.58)" font-size="6.8" textLength="17.7" lengthAdjust="spacingAndGlyphs" text-anchor="end" stroke="#2a2a2a" stroke-width="0.18" fill="#2a2a2a">CUX1</text>
<text transform="translate(89.5,289.44)" font-size="6.8" textLength="12.8" lengthAdjust="spacingAndGlyphs" text-anchor="end" stroke="#2a2a2a" stroke-width="0.18" fill="#2a2a2a">CBL</text>
<text transform="translate(89.5,296.31)" font-size="6.8" textLength="18.9" lengthAdjust="spacingAndGlyphs" text-anchor="end" stroke="#2a2a2a" stroke-width="0.18" fill="#2a2a2a">NPM1</text>
<text transform="translate(89.5,303.18)" font-size="6.8" textLength="23.3" lengthAdjust="spacingAndGlyphs" text-anchor="end" stroke="#2a2a2a" stroke-width="0.18" fill="#2a2a2a">SETBP1</text>
<text transform="translate(89.5,310.05)" font-size="6.8" textLength="16.1" lengthAdjust="spacingAndGlyphs" text-anchor="end" stroke="#2a2a2a" stroke-width="0.18" fill="#2a2a2a">USP7</text>
<text transform="translate(89.5,316.91)" font-size="6.8" textLength="30.8" lengthAdjust="spacingAndGlyphs" text-anchor="end" stroke="#2a2a2a" stroke-width="0.18" fill="#2a2a2a">HIST1H3H</text>
<line x1="48.35" y1="67.3" x2="48.35" y2="83.4" stroke="#111" stroke-width="1"/>
<text transform="translate(45.4,77.2)" font-size="6.8" textLength="38.3" lengthAdjust="spacingAndGlyphs" text-anchor="end" font-weight="bold" stroke="#111" stroke-width="0.22" fill="#111">Myeloid TFs</text>
<line x1="48.35" y1="85.6" x2="48.35" y2="124.6" stroke="#111" stroke-width="1"/>
<text transform="translate(45.4,104.35)" font-size="6.8" textLength="32.9" lengthAdjust="spacingAndGlyphs" text-anchor="end" font-weight="bold" stroke="#111" stroke-width="0.22" fill="#111">Chromatin</text>
<text transform="translate(45.4,111.85)" font-size="6.8" textLength="30.3" lengthAdjust="spacingAndGlyphs" text-anchor="end" font-weight="bold" stroke="#111" stroke-width="0.22" fill="#111">Modifiers</text>
<line x1="48.35" y1="126.8" x2="48.35" y2="152.07" stroke="#111" stroke-width="1"/>
<text transform="translate(45.4,138.69)" font-size="6.8" textLength="16.1" lengthAdjust="spacingAndGlyphs" text-anchor="end" font-weight="bold" stroke="#111" stroke-width="0.22" fill="#111">DNA</text>
<text transform="translate(45.4,146.19)" font-size="6.8" textLength="38.3" lengthAdjust="spacingAndGlyphs" text-anchor="end" font-weight="bold" stroke="#111" stroke-width="0.22" fill="#111">Methylation</text>
<line x1="48.35" y1="154.27" x2="48.35" y2="207.01" stroke="#111" stroke-width="1"/>
<text transform="translate(45.4,179.89)" font-size="6.8" textLength="31.2" lengthAdjust="spacingAndGlyphs" text-anchor="end" font-weight="bold" stroke="#111" stroke-width="0.22" fill="#111">Activated</text>
<text transform="translate(45.4,187.39)" font-size="6.8" textLength="29" lengthAdjust="spacingAndGlyphs" text-anchor="end" font-weight="bold" stroke="#111" stroke-width="0.22" fill="#111">Signaling</text>
<line x1="48.35" y1="209.21" x2="48.35" y2="234.47" stroke="#111" stroke-width="1"/>
<text transform="translate(45.4,224.84)" font-size="6.8" textLength="39.8" lengthAdjust="spacingAndGlyphs" text-anchor="end" font-weight="bold" stroke="#111" stroke-width="0.22" fill="#111">Spliceosome</text>
<line x1="48.35" y1="236.68" x2="48.35" y2="255.08" stroke="#111" stroke-width="1"/>
<text transform="translate(45.4,245.13)" font-size="6.8" textLength="24.9" lengthAdjust="spacingAndGlyphs" text-anchor="end" font-weight="bold" stroke="#111" stroke-width="0.22" fill="#111">Cohesin</text>
<text transform="translate(45.4,252.63)" font-size="6.8" textLength="28.2" lengthAdjust="spacingAndGlyphs" text-anchor="end" font-weight="bold" stroke="#111" stroke-width="0.22" fill="#111">Complex</text>
<line x1="48.35" y1="257.28" x2="48.35" y2="282.54" stroke="#111" stroke-width="1"/>
<text transform="translate(45.4,269.16)" font-size="6.8" textLength="19.4" lengthAdjust="spacingAndGlyphs" text-anchor="end" font-weight="bold" stroke="#111" stroke-width="0.22" fill="#111">Tumor</text>
<text transform="translate(45.4,276.66)" font-size="6.8" textLength="30.9" lengthAdjust="spacingAndGlyphs" text-anchor="end" font-weight="bold" stroke="#111" stroke-width="0.22" fill="#111">Supressor</text>
<line x1="48.35" y1="284.74" x2="48.35" y2="289.41" stroke="#111" stroke-width="1"/>
<text transform="translate(45.4,290.08)" font-size="6.8" textLength="32.2" lengthAdjust="spacingAndGlyphs" text-anchor="end" font-weight="bold" stroke="#111" stroke-width="0.22" fill="#111">Oncogene</text>
<line x1="48.35" y1="291.61" x2="48.35" y2="316.88" stroke="#111" stroke-width="1"/>
<text transform="translate(45.4,307.24)" font-size="6.8" textLength="21.2" lengthAdjust="spacingAndGlyphs" text-anchor="end" font-weight="bold" stroke="#111" stroke-width="0.22" fill="#111">Others</text>
<text transform="translate(7,16.9) scale(1.02,1)" font-size="11.9" font-weight="bold" stroke="#000" stroke-width="0.3" fill="#000">A</text>
<text transform="translate(265.3,17.1) scale(0.98,1)" font-size="11.8" font-weight="bold" stroke="#000" stroke-width="0.3" fill="#000">B</text>
<text transform="translate(265.2,165.5) scale(0.97,1)" font-size="11.8" font-weight="bold" stroke="#000" stroke-width="0.3" fill="#000">C</text>
<rect x="15.6" y="325.5" width="106.8" height="38.8" fill="#fff" stroke="#3a3a3a" stroke-width="0.9"/>
<line x1="16" y1="335.85" x2="122" y2="335.85" stroke="#999" stroke-width="1.5"/>
<text transform="translate(69,332.2) scale(0.95,1)" font-size="5.9" text-anchor="middle" font-weight="bold" stroke="#111" stroke-width="0.15" fill="#111"><tspan font-style="italic">RUNX1 mutant effect</tspan></text>
<rect x="126.1" y="325.5" width="28.5" height="38.8" fill="#fff" stroke="#3a3a3a" stroke-width="0.9"/>
<line x1="126.5" y1="335.85" x2="154.2" y2="335.85" stroke="#999" stroke-width="1.5"/>
<text transform="translate(140.35,332.2) scale(0.92,1)" font-size="5.9" text-anchor="middle" font-weight="bold" stroke="#111" stroke-width="0.15" fill="#111">Age (yrs)</text>
<rect x="157.2" y="325.5" width="55.3" height="38.8" fill="#fff" stroke="#3a3a3a" stroke-width="0.9"/>
<line x1="157.6" y1="335.85" x2="212.1" y2="335.85" stroke="#999" stroke-width="1.5"/>
<text transform="translate(184.85,332.2) scale(0.95,1)" font-size="5.9" text-anchor="middle" font-weight="bold" stroke="#111" stroke-width="0.15" fill="#111">Mutations</text>
<rect x="215.6" y="325.5" width="25.9" height="38.8" fill="#fff" stroke="#3a3a3a" stroke-width="0.9"/>
<line x1="216" y1="335.85" x2="241.1" y2="335.85" stroke="#999" stroke-width="1.5"/>
<text transform="translate(228.55,332.2) scale(0.92,1)" font-size="5.9" text-anchor="middle" font-weight="bold" stroke="#111" stroke-width="0.15" fill="#111"><tspan font-style="italic">Gender</tspan></text>
<rect x="19.3" y="339.1" width="3.2" height="5.35" fill="#55aee6" stroke="#222" stroke-width="0.45"/>
<rect x="19.3" y="344.75" width="3.2" height="5.35" fill="#4b1b6c" stroke="#222" stroke-width="0.45"/>
<rect x="19.3" y="350.4" width="3.2" height="5.35" fill="#f0a020" stroke="#222" stroke-width="0.45"/>
<rect x="19.3" y="356.05" width="3.2" height="5.35" fill="#c2102c" stroke="#222" stroke-width="0.45"/>
<text transform="translate(25.7,343.5) scale(0.91,1)" font-size="6.2" fill="#383838">neutral/unknown</text>
<text transform="translate(25.7,349.3) scale(0.91,1)" font-size="6.2" fill="#383838">loss-of-function/disrupted RUNT</text>
<text transform="translate(25.7,355.1) scale(0.91,1)" font-size="6.2" fill="#383838">loss-of-funtion/truncated TAD/RUNXI</text>
<text transform="translate(25.7,360.9) scale(0.91,1)" font-size="6.2" fill="#383838">dominant-negative</text>
<rect x="134" y="339.1" width="3.2" height="5.35" fill="#2a6444" stroke="#222" stroke-width="0.45"/>
<rect x="134" y="344.75" width="3.2" height="5.35" fill="#6f957c" stroke="#222" stroke-width="0.45"/>
<rect x="134" y="350.4" width="3.2" height="5.35" fill="#a0b6a6" stroke="#222" stroke-width="0.45"/>
<rect x="134" y="356.05" width="3.2" height="5.35" fill="#e6ece6" stroke="#222" stroke-width="0.45"/>
<text transform="translate(140.6,343.6) scale(0.91,1)" font-size="6.2" fill="#383838">80</text>
<text transform="translate(140.6,361) scale(0.91,1)" font-size="6.2" fill="#383838">30</text>
<rect x="160.8" y="339.6" width="2.9" height="5" fill="#ddd" stroke="#222" stroke-width="0.45"/>
<rect x="166" y="339.1" width="3.2" height="5.35" fill="#f6f6f6" stroke="#222" stroke-width="0.45"/>
<rect x="166" y="344.75" width="3.2" height="5.35" fill="#1e3f82" stroke="#222" stroke-width="0.45"/>
<rect x="166" y="350.4" width="3.2" height="5.35" fill="#f0a020" stroke="#222" stroke-width="0.45"/>
<rect x="166" y="356.05" width="3.2" height="5.35" fill="#d8108e" stroke="#222" stroke-width="0.45"/>
<text transform="translate(172.6,343.4) scale(0.91,1)" font-size="6.2" fill="#383838">0</text>
<text transform="translate(172.6,349.2) scale(0.91,1)" font-size="6.2" fill="#383838">1</text>
<text transform="translate(172.6,355) scale(0.91,1)" font-size="6.2" font-style="italic" fill="#383838">FLT3-ITD</text>
<text transform="translate(172.6,360.8) scale(0.91,1)" font-size="6.2" fill="#383838"><tspan font-style="italic">CEBPA</tspan> biallelic</text>
<rect x="224.3" y="339.2" width="3.4" height="5.4" fill="#8a80d0"/>
<rect x="224.3" y="344.8" width="3.4" height="5.4" fill="#b0c084"/>
<text transform="translate(231.3,343.6) scale(0.91,1)" font-size="6.2" fill="#383838">F</text>
<text transform="translate(231.3,349.6) scale(0.91,1)" font-size="6.2" fill="#383838">M</text>
<line x1="309.4" y1="24.8" x2="309.4" y2="104.2" stroke="#111" stroke-width="0.9"/>
<line x1="306.4" y1="104.2" x2="512" y2="104.2" stroke="#111" stroke-width="0.9"/>
<line x1="306.4" y1="88.85" x2="309.4" y2="88.85" stroke="#111" stroke-width="0.8"/>
<line x1="306.4" y1="73.5" x2="309.4" y2="73.5" stroke="#111" stroke-width="0.8"/>
<line x1="306.4" y1="58.15" x2="309.4" y2="58.15" stroke="#111" stroke-width="0.8"/>
<line x1="306.4" y1="42.8" x2="309.4" y2="42.8" stroke="#111" stroke-width="0.8"/>
<line x1="306.4" y1="27.45" x2="309.4" y2="27.45" stroke="#111" stroke-width="0.8"/>
<text transform="translate(303.4,107.05) scale(0.96,1)" font-size="8.2" text-anchor="end" stroke="#262626" stroke-width="0.15" fill="#262626">0</text>
<text transform="translate(303.4,91.7) scale(0.96,1)" font-size="8.2" text-anchor="end" stroke="#262626" stroke-width="0.15" fill="#262626">10</text>
<text transform="translate(303.4,76.35) scale(0.96,1)" font-size="8.2" text-anchor="end" stroke="#262626" stroke-width="0.15" fill="#262626">20</text>
<text transform="translate(303.4,61) scale(0.96,1)" font-size="8.2" text-anchor="end" stroke="#262626" stroke-width="0.15" fill="#262626">30</text>
<text transform="translate(303.4,45.65) scale(0.96,1)" font-size="8.2" text-anchor="end" stroke="#262626" stroke-width="0.15" fill="#262626">40</text>
<text transform="translate(303.4,30.3) scale(0.96,1)" font-size="8.2" text-anchor="end" stroke="#262626" stroke-width="0.15" fill="#262626">50</text>
<text transform="translate(288.9,64) rotate(-90) scale(0.88,1)" font-size="9.3" text-anchor="middle" stroke="#262626" stroke-width="0.15" fill="#262626">%mutated specimens</text>
<rect x="315.3" y="27.9" width="7" height="2.6" fill="#b5102e"/>
<rect x="315.3" y="39.5" width="7" height="2.6" fill="#1f3f80"/>
<text transform="translate(325.6,32.4) scale(0.91,1)" font-size="8.3" stroke="#262626" stroke-width="0.15" fill="#262626">germline RUNX1</text>
<text transform="translate(325.6,43.4) scale(0.91,1)" font-size="8.3" stroke="#262626" stroke-width="0.15" fill="#262626">somatic RUNX1</text>
<rect x="311.75" y="54.16" width="2.5" height="50.04" fill="#b5102e"/>
<rect x="317.3" y="94.07" width="2.5" height="10.13" fill="#1f3f80"/>
<line x1="315.6" y1="104.2" x2="315.6" y2="106.7" stroke="#111" stroke-width="0.8"/>
<text transform="translate(318.8,113.6) rotate(-45)" font-size="7.8" text-anchor="end" stroke="#262626" stroke-width="0.15" fill="#262626">NRAS</text>
<rect x="326.37" y="54.16" width="2.5" height="50.04" fill="#b5102e"/>
<rect x="331.92" y="77.49" width="2.5" height="26.71" fill="#1f3f80"/>
<line x1="330.22" y1="104.2" x2="330.22" y2="106.7" stroke="#111" stroke-width="0.8"/>
<text transform="translate(333.42,113.6) rotate(-45)" font-size="7.8" text-anchor="end" stroke="#262626" stroke-width="0.15" fill="#262626">FLT3</text>
<rect x="340.98" y="66.59" width="2.5" height="37.61" fill="#b5102e"/>
<rect x="346.53" y="98.67" width="2.5" height="5.53" fill="#1f3f80"/>
<line x1="344.83" y1="104.2" x2="344.83" y2="106.7" stroke="#111" stroke-width="0.8"/>
<text transform="translate(348.03,113.6) rotate(-45)" font-size="7.8" text-anchor="end" stroke="#262626" stroke-width="0.15" fill="#262626">CEBPA</text>
<rect x="355.6" y="66.59" width="2.5" height="37.61" fill="#b5102e"/>
<rect x="361.15" y="98.67" width="2.5" height="5.53" fill="#1f3f80"/>
<line x1="359.45" y1="104.2" x2="359.45" y2="106.7" stroke="#111" stroke-width="0.8"/>
<text transform="translate(362.65,113.6) rotate(-45)" font-size="7.8" text-anchor="end" stroke="#262626" stroke-width="0.15" fill="#262626">STAG2</text>
<rect x="370.21" y="79.18" width="2.5" height="25.02" fill="#b5102e"/>
<rect x="375.76" y="98.67" width="2.5" height="5.53" fill="#1f3f80"/>
<line x1="374.06" y1="104.2" x2="374.06" y2="106.7" stroke="#111" stroke-width="0.8"/>
<text transform="translate(377.26,113.6) rotate(-45)" font-size="7.8" text-anchor="end" stroke="#262626" stroke-width="0.15" fill="#262626">U2AF1</text>
<rect x="384.82" y="91.92" width="2.5" height="12.28" fill="#b5102e"/>
<rect x="390.38" y="94.22" width="2.5" height="9.98" fill="#1f3f80"/>
<line x1="388.68" y1="104.2" x2="388.68" y2="106.7" stroke="#111" stroke-width="0.8"/>
<text transform="translate(391.88,113.6) rotate(-45)" font-size="7.8" text-anchor="end" stroke="#262626" stroke-width="0.15" fill="#262626">IDH2</text>
<rect x="399.44" y="91.92" width="2.5" height="12.28" fill="#b5102e"/>
<rect x="404.99" y="83.02" width="2.5" height="21.18" fill="#1f3f80"/>
<line x1="403.29" y1="104.2" x2="403.29" y2="106.7" stroke="#111" stroke-width="0.8"/>
<text transform="translate(406.49,113.6) rotate(-45)" font-size="7.8" text-anchor="end" stroke="#262626" stroke-width="0.15" fill="#262626">IDH1</text>
<rect x="414.06" y="91.92" width="2.5" height="12.28" fill="#b5102e"/>
<rect x="419.61" y="72.27" width="2.5" height="31.93" fill="#1f3f80"/>
<line x1="417.91" y1="104.2" x2="417.91" y2="106.7" stroke="#111" stroke-width="0.8"/>
<text transform="translate(421.11,113.6) rotate(-45)" font-size="7.8" text-anchor="end" stroke="#262626" stroke-width="0.15" fill="#262626">BCOR</text>
<rect x="428.67" y="79.33" width="2.5" height="24.87" fill="#b5102e"/>
<rect x="434.22" y="66.59" width="2.5" height="37.61" fill="#1f3f80"/>
<line x1="432.52" y1="104.2" x2="432.52" y2="106.7" stroke="#111" stroke-width="0.8"/>
<text transform="translate(435.72,113.6) rotate(-45)" font-size="7.8" text-anchor="end" stroke="#262626" stroke-width="0.15" fill="#262626">TET2</text>
<rect x="443.28" y="79.33" width="2.5" height="24.87" fill="#b5102e"/>
<rect x="448.83" y="61.37" width="2.5" height="42.83" fill="#1f3f80"/>
<line x1="447.13" y1="104.2" x2="447.13" y2="106.7" stroke="#111" stroke-width="0.8"/>
<text transform="translate(450.33,113.6) rotate(-45)" font-size="7.8" text-anchor="end" stroke="#262626" stroke-width="0.15" fill="#262626">SRSF2</text>
<rect x="457.9" y="79.33" width="2.5" height="24.87" fill="#b5102e"/>
<rect x="463.45" y="56" width="2.5" height="48.2" fill="#1f3f80"/>
<line x1="461.75" y1="104.2" x2="461.75" y2="106.7" stroke="#111" stroke-width="0.8"/>
<text transform="translate(464.95,113.6) rotate(-45)" font-size="7.8" text-anchor="end" stroke="#262626" stroke-width="0.15" fill="#262626">RUNX1</text>
<rect x="472.51" y="66.59" width="2.5" height="37.61" fill="#b5102e"/>
<rect x="478.06" y="45.26" width="2.5" height="58.94" fill="#1f3f80"/>
<line x1="476.37" y1="104.2" x2="476.37" y2="106.7" stroke="#111" stroke-width="0.8"/>
<text transform="translate(479.56,113.6) rotate(-45)" font-size="7.8" text-anchor="end" stroke="#262626" stroke-width="0.15" fill="#262626">ASXL1</text>
<rect x="492.68" y="72.27" width="2.5" height="31.93" fill="#1f3f80"/>
<line x1="490.98" y1="104.2" x2="490.98" y2="106.7" stroke="#111" stroke-width="0.8"/>
<text transform="translate(494.18,113.6) rotate(-45)" font-size="7.8" text-anchor="end" stroke="#262626" stroke-width="0.15" fill="#262626">DNMT3A</text>
<rect x="507.3" y="83.02" width="2.5" height="21.18" fill="#1f3f80"/>
<line x1="505.6" y1="104.2" x2="505.6" y2="106.7" stroke="#111" stroke-width="0.8"/>
<text transform="translate(508.8,113.6) rotate(-45)" font-size="7.8" text-anchor="end" stroke="#262626" stroke-width="0.15" fill="#262626">TP53</text>
<line x1="309.6" y1="172.9" x2="309.6" y2="252.3" stroke="#111" stroke-width="0.9"/>
<line x1="306.6" y1="252.3" x2="439.2" y2="252.3" stroke="#111" stroke-width="0.9"/>
<line x1="306.6" y1="233" x2="309.6" y2="233" stroke="#111" stroke-width="0.8"/>
<line x1="306.6" y1="213.7" x2="309.6" y2="213.7" stroke="#111" stroke-width="0.8"/>
<line x1="306.6" y1="194.4" x2="309.6" y2="194.4" stroke="#111" stroke-width="0.8"/>
<line x1="306.6" y1="175.1" x2="309.6" y2="175.1" stroke="#111" stroke-width="0.8"/>
<text transform="translate(303.4,255.65) scale(0.96,1)" font-size="8.2" text-anchor="end" stroke="#262626" stroke-width="0.15" fill="#262626">0</text>
<text transform="translate(303.4,236.35) scale(0.96,1)" font-size="8.2" text-anchor="end" stroke="#262626" stroke-width="0.15" fill="#262626">20</text>
<text transform="translate(303.4,217.05) scale(0.96,1)" font-size="8.2" text-anchor="end" stroke="#262626" stroke-width="0.15" fill="#262626">40</text>
<text transform="translate(303.4,197.75) scale(0.96,1)" font-size="8.2" text-anchor="end" stroke="#262626" stroke-width="0.15" fill="#262626">60</text>
<text transform="translate(303.4,178.45) scale(0.96,1)" font-size="8.2" text-anchor="end" stroke="#262626" stroke-width="0.15" fill="#262626">80</text>
<text transform="translate(287.6,212.8) rotate(-90) scale(0.88,1)" font-size="9.3" text-anchor="middle" stroke="#262626" stroke-width="0.15" fill="#262626">%mutated specimens</text>
<rect x="324.7" y="175.3" width="7.1" height="2.7" fill="#b5102e"/>
<rect x="324.7" y="186.8" width="7.1" height="2.7" fill="#1f3f80"/>
<text transform="translate(335.1,179.9) scale(0.91,1)" font-size="8.3" stroke="#262626" stroke-width="0.15" fill="#262626">germline RUNX1</text>
<text transform="translate(335.1,190.9) scale(0.91,1)" font-size="8.3" stroke="#262626" stroke-width="0.15" fill="#262626">somatic RUNX1</text>
<rect x="311.75" y="180.89" width="3.8" height="71.41" fill="#b5102e"/>
<rect x="319" y="201.44" width="3.8" height="50.86" fill="#1f3f80"/>
<line x1="317.3" y1="252.3" x2="317.3" y2="254.8" stroke="#111" stroke-width="0.8"/>
<text transform="translate(320.3,260.9) rotate(-45)" font-size="8.4" text-anchor="end" stroke="#262626" stroke-width="0.15" fill="#262626">Activated&#160;&#160;Signaling</text>
<rect x="330.67" y="213.02" width="3.8" height="39.28" fill="#b5102e"/>
<rect x="337.92" y="232.42" width="3.8" height="19.88" fill="#1f3f80"/>
<line x1="336.22" y1="252.3" x2="336.22" y2="254.8" stroke="#111" stroke-width="0.8"/>
<text transform="translate(339.22,260.9) rotate(-45)" font-size="8.4" text-anchor="end" stroke="#262626" stroke-width="0.15" fill="#262626">RAS Signaling</text>
<rect x="349.59" y="228.75" width="3.8" height="23.55" fill="#b5102e"/>
<rect x="356.84" y="245.93" width="3.8" height="6.37" fill="#1f3f80"/>
<line x1="355.14" y1="252.3" x2="355.14" y2="254.8" stroke="#111" stroke-width="0.8"/>
<text transform="translate(358.14,260.9) rotate(-45)" font-size="8.4" text-anchor="end" stroke="#262626" stroke-width="0.15" fill="#262626">Cohesin</text>
<rect x="368.51" y="213.02" width="3.8" height="39.28" fill="#b5102e"/>
<rect x="375.76" y="215.05" width="3.8" height="37.25" fill="#1f3f80"/>
<line x1="374.06" y1="252.3" x2="374.06" y2="254.8" stroke="#111" stroke-width="0.8"/>
<text transform="translate(377.06,260.9) rotate(-45)" font-size="8.4" text-anchor="end" stroke="#262626" stroke-width="0.15" fill="#262626">Spliceosome</text>
<rect x="387.43" y="244.97" width="3.8" height="7.33" fill="#b5102e"/>
<rect x="394.68" y="235.9" width="3.8" height="16.41" fill="#1f3f80"/>
<line x1="392.98" y1="252.3" x2="392.98" y2="254.8" stroke="#111" stroke-width="0.8"/>
<text transform="translate(395.98,260.9) rotate(-45)" font-size="8.4" text-anchor="end" stroke="#262626" stroke-width="0.15" fill="#262626">Tumor Supressors</text>
<rect x="406.35" y="220.84" width="3.8" height="31.46" fill="#b5102e"/>
<rect x="413.6" y="211.77" width="3.8" height="40.53" fill="#1f3f80"/>
<line x1="411.9" y1="252.3" x2="411.9" y2="254.8" stroke="#111" stroke-width="0.8"/>
<text transform="translate(414.9,260.9) rotate(-45)" font-size="8.4" text-anchor="end" stroke="#262626" stroke-width="0.15" fill="#262626">DNA Methylation</text>
<rect x="425.27" y="205.02" width="3.8" height="47.28" fill="#b5102e"/>
<rect x="432.52" y="187.65" width="3.8" height="64.66" fill="#1f3f80"/>
<line x1="430.82" y1="252.3" x2="430.82" y2="254.8" stroke="#111" stroke-width="0.8"/>
<text transform="translate(433.82,260.9) rotate(-45)" font-size="8.4" text-anchor="end" stroke="#262626" stroke-width="0.15" fill="#262626">Chromatin Modifiers</text>
<rect x="0.5" y="0.5" width="519" height="371" fill="none" stroke="#000" stroke-width="1"/>
</svg></body></html>
